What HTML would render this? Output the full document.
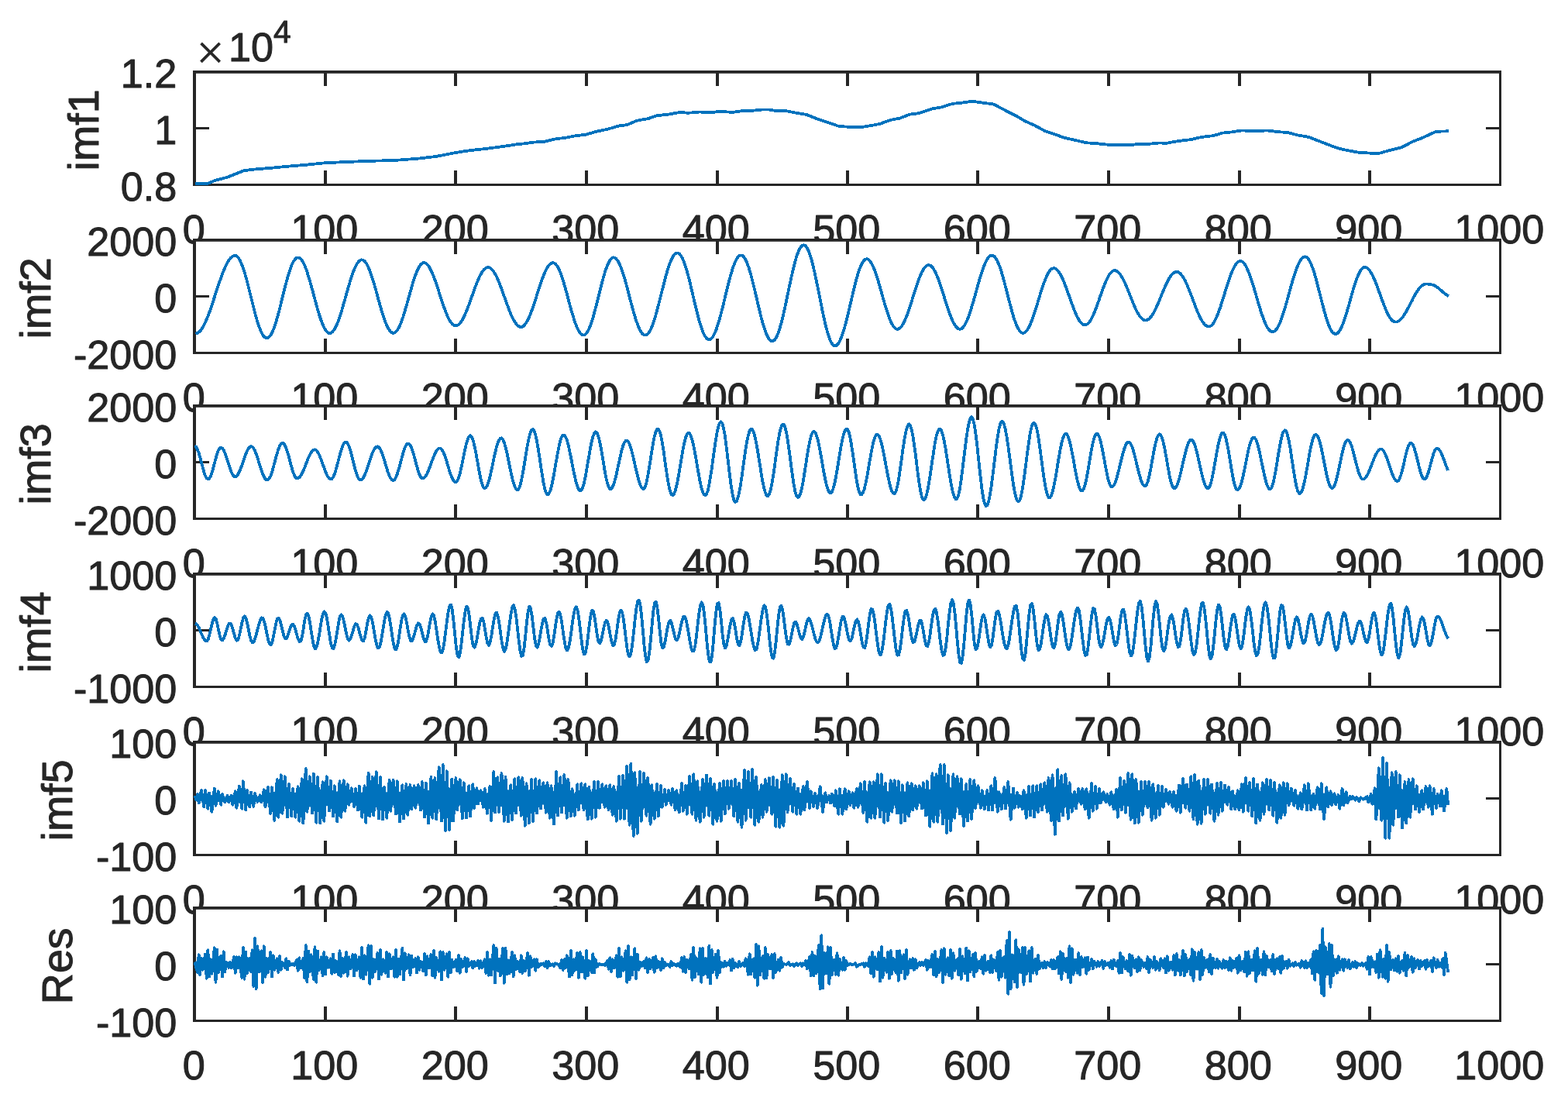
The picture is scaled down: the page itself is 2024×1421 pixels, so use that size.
<!DOCTYPE html>
<html lang="en"><head><meta charset="utf-8"><title>IMF decomposition</title>
<style>html,body{margin:0;padding:0;background:#fff}body{width:2024px;height:1421px;overflow:hidden}svg{display:block}text{font-family:"Liberation Sans", sans-serif;fill:#262626;stroke:#262626;stroke-width:1px;stroke-linejoin:round}.t{font-size:52.2px}.l{font-size:55.7px}.c{fill:none;stroke:#0072BD;stroke-width:3.8;stroke-linejoin:round;stroke-linecap:butt;shape-rendering:crispEdges}.a{fill:#262626}</style>
</head><body>
<svg width="2024" height="1421" viewBox="0 0 2024 1421">
<rect width="2024" height="1421" fill="#fff"/>
<g id="ax1">
<rect x="249" y="91" width="1689" height="149" fill="#fff"/>
<rect class="a" x="249" y="91" width="1689" height="3.8"/>
<rect class="a" x="249" y="237" width="1689" height="3"/>
<rect class="a" x="249" y="91" width="4" height="149"/>
<rect class="a" x="1935" y="91" width="3" height="149"/>
<rect class="a" x="418" y="91" width="4" height="20"/>
<rect class="a" x="418" y="220" width="4" height="20"/>
<rect class="a" x="586" y="91" width="4" height="20"/>
<rect class="a" x="586" y="220" width="4" height="20"/>
<rect class="a" x="755" y="91" width="4" height="20"/>
<rect class="a" x="755" y="220" width="4" height="20"/>
<rect class="a" x="924" y="91" width="4" height="20"/>
<rect class="a" x="924" y="220" width="4" height="20"/>
<rect class="a" x="1092" y="91" width="4" height="20"/>
<rect class="a" x="1092" y="220" width="4" height="20"/>
<rect class="a" x="1260" y="91" width="4" height="20"/>
<rect class="a" x="1260" y="220" width="4" height="20"/>
<rect class="a" x="1429" y="91" width="4" height="20"/>
<rect class="a" x="1429" y="220" width="4" height="20"/>
<rect class="a" x="1598" y="91" width="4" height="20"/>
<rect class="a" x="1598" y="220" width="4" height="20"/>
<rect class="a" x="1766" y="91" width="4" height="20"/>
<rect class="a" x="1766" y="220" width="4" height="20"/>
<rect class="a" x="249" y="164" width="21" height="3"/>
<rect class="a" x="1918" y="164" width="20" height="3"/>
<clipPath id="cp1"><rect x="249" y="91" width="1689" height="149"/></clipPath>
<path class="c" clip-path="url(#cp1)" d="M252.4,237.3 268.4,236.9 276.9,233.1 293.9,228.6 315.1,220.1 330,218.4 351.2,216.7 372.5,214.6 393.7,212.9 419.2,210.3 436.2,209.5 457.5,208.6 478.7,207.8 510.6,206.9 542.4,204.4 563.7,201.8 584.9,197.6 606.2,194.2 627.4,191.9 648.7,189.1 669.9,185.9 677.7,185.3 686.2,183.8 703.2,182.7 718.1,179.1 728.7,178.1 743.6,175.1 756.4,173.8 767,170.4 784,166.8 798.8,162.5 809.5,161.1 822.2,155.7 837.1,153 847.7,149.2 862.6,147.7 877.5,144.9 888.1,145.8 902.9,144.5 917.8,145.3 928.4,143.8 945.4,144.9 960.3,142.8 970.9,142.8 983.7,141.5 992.2,141.5 1000.7,142.8 1013.4,142.8 1026.2,145.5 1041,147.9 1053.8,153 1068.7,157.9 1081.4,162.5 1085,163 1097.7,164 1112.6,164 1127.5,161.5 1136,159.8 1148.7,155.1 1161.5,152.6 1174.2,147.7 1187,146 1204,140.2 1214.6,138.5 1229.5,133.9 1242.2,132.6 1255,130.7 1267.7,132.6 1282.6,134.5 1297.5,142.4 1312.3,149.8 1322.9,156.2 1335.7,161.9 1348.4,168.9 1361.2,173.2 1373.9,177.8 1386.7,180.6 1401.6,184.2 1416.4,185.3 1429.2,186.6 1446.2,186.6 1456.8,187.4 1471.7,185.7 1484.4,185.7 1497.2,184.4 1505,184.9 1522,181.9 1536.9,180.2 1551.7,176.8 1566.6,175.1 1577.2,171.7 1590,170.4 1602.7,168.5 1619.7,168.9 1636.7,168.5 1649.5,170.2 1662.2,171 1675,174.4 1689.8,177 1702.6,182.1 1715.3,187 1728.1,191.7 1740.8,194.4 1753.6,196.7 1768.4,197.6 1781.2,197.6 1793.9,194 1808.8,190.4 1823.7,182.7 1836.4,177.8 1853.4,169.8 1870,169.3"/>
<text class="t" x="250.3" y="314" text-anchor="middle">0</text>
<text class="t" x="418.8" y="314" text-anchor="middle">100</text>
<text class="t" x="587.3" y="314" text-anchor="middle">200</text>
<text class="t" x="755.8" y="314" text-anchor="middle">300</text>
<text class="t" x="924.3" y="314" text-anchor="middle">400</text>
<text class="t" x="1092.8" y="314" text-anchor="middle">500</text>
<text class="t" x="1261.3" y="314" text-anchor="middle">600</text>
<text class="t" x="1429.8" y="314" text-anchor="middle">700</text>
<text class="t" x="1598.3" y="314" text-anchor="middle">800</text>
<text class="t" x="1766.8" y="314" text-anchor="middle">900</text>
<text class="t" x="1935.3" y="314" text-anchor="middle">1000</text>
<text class="t" x="228.4" y="112.9" text-anchor="end">1.2</text>
<text class="t" x="228.4" y="185.8" text-anchor="end">1</text>
<text class="t" x="228.4" y="258.8" text-anchor="end">0.8</text>
<text class="l" transform="translate(127.2,167.8) rotate(-90)" text-anchor="middle">imf1</text>
<text x="253.6" y="88.8" style="font-family:'Liberation Serif',serif;font-size:64px;stroke-width:.5px">×</text>
<text class="t" x="295" y="79.3">10</text>
<text x="353" y="54.8" style="font-size:40.5px">4</text>
</g>
<g id="ax2">
<rect x="249" y="308" width="1689" height="149" fill="#fff"/>
<rect class="a" x="249" y="308" width="1689" height="3.8"/>
<rect class="a" x="249" y="454" width="1689" height="3"/>
<rect class="a" x="249" y="308" width="4" height="149"/>
<rect class="a" x="1935" y="308" width="3" height="149"/>
<rect class="a" x="418" y="308" width="4" height="20"/>
<rect class="a" x="418" y="437" width="4" height="20"/>
<rect class="a" x="586" y="308" width="4" height="20"/>
<rect class="a" x="586" y="437" width="4" height="20"/>
<rect class="a" x="755" y="308" width="4" height="20"/>
<rect class="a" x="755" y="437" width="4" height="20"/>
<rect class="a" x="924" y="308" width="4" height="20"/>
<rect class="a" x="924" y="437" width="4" height="20"/>
<rect class="a" x="1092" y="308" width="4" height="20"/>
<rect class="a" x="1092" y="437" width="4" height="20"/>
<rect class="a" x="1260" y="308" width="4" height="20"/>
<rect class="a" x="1260" y="437" width="4" height="20"/>
<rect class="a" x="1429" y="308" width="4" height="20"/>
<rect class="a" x="1429" y="437" width="4" height="20"/>
<rect class="a" x="1598" y="308" width="4" height="20"/>
<rect class="a" x="1598" y="437" width="4" height="20"/>
<rect class="a" x="1766" y="308" width="4" height="20"/>
<rect class="a" x="1766" y="437" width="4" height="20"/>
<rect class="a" x="249" y="381" width="21" height="3"/>
<rect class="a" x="1918" y="381" width="20" height="3"/>
<clipPath id="cp2"><rect x="249" y="308" width="1689" height="149"/></clipPath>
<path class="c" clip-path="url(#cp2)" d="M252.4,430.5 254.1,430.2 255.8,429.4 257.5,428.1 259.2,426.2 260.9,423.9 262.5,421 264.2,417.8 265.9,414.1 267.6,410.1 269.3,405.7 271,401.1 272.7,396.3 274.3,391.2 276,386.1 277.7,380.9 279.4,375.7 281.1,370.5 282.8,365.5 284.5,360.6 286.1,355.9 287.8,351.5 289.5,347.4 291.2,343.6 292.9,340.2 294.6,337.3 296.2,334.8 297.9,332.8 299.6,331.4 301.3,330.4 303,330 304.7,330.2 306.4,331.3 308,333.3 309.7,336.1 311.4,339.6 313.1,343.9 314.8,348.9 316.5,354.4 318.2,360.4 319.8,366.8 321.5,373.5 323.2,380.3 324.9,387.1 326.6,393.9 328.3,400.6 329.9,406.9 331.6,412.8 333.3,418.3 335,423.1 336.7,427.3 338.4,430.8 340.1,433.5 341.7,435.3 343.4,436.3 345.1,436.3 346.8,435.5 348.5,433.8 350.2,431.3 351.9,427.9 353.5,423.8 355.2,418.9 356.9,413.5 358.6,407.6 360.3,401.3 362,394.7 363.6,387.9 365.3,381 367,374.2 368.7,367.6 370.4,361.3 372.1,355.3 373.8,349.9 375.4,345.1 377.1,340.9 378.8,337.5 380.5,335 382.2,333.2 383.9,332.4 385.6,332.5 387.2,333.3 388.9,335 390.6,337.4 392.3,340.6 394,344.4 395.7,348.9 397.3,353.9 399,359.3 400.7,365.1 402.4,371.2 404.1,377.5 405.8,383.8 407.5,390 409.1,396.1 410.8,402 412.5,407.5 414.2,412.6 415.9,417.2 417.6,421.1 419.3,424.4 420.9,427 422.6,428.8 424.3,429.8 426,430 427.7,429.5 429.4,428.1 431,426 432.7,423.3 434.4,419.8 436.1,415.8 437.8,411.2 439.5,406.1 441.2,400.7 442.8,394.9 444.5,389 446.2,383 447.9,376.9 449.6,371 451.3,365.2 453,359.8 454.6,354.7 456.3,350 458,345.9 459.7,342.4 461.4,339.6 463.1,337.4 464.7,336 466.4,335.3 468.1,335.5 469.8,336.4 471.5,338.1 473.2,340.5 474.9,343.7 476.5,347.5 478.2,351.9 479.9,356.8 481.6,362.1 483.3,367.8 485,373.7 486.7,379.8 488.3,385.9 490,392 491.7,397.9 493.4,403.6 495.1,408.9 496.8,413.7 498.4,418.1 500.1,421.8 501.8,424.9 503.5,427.3 505.2,428.9 506.9,429.7 508.6,429.8 510.2,429 511.9,427.4 513.6,425 515.3,421.9 517,418.2 518.7,413.8 520.4,408.9 522,403.5 523.7,397.8 525.4,391.9 527.1,385.8 528.8,379.7 530.5,373.7 532.1,367.9 533.8,362.3 535.5,357.2 537.2,352.6 538.9,348.6 540.6,345.2 542.3,342.5 543.9,340.6 545.6,339.4 547.3,339.1 549,339.5 550.7,340.6 552.4,342.4 554.1,344.7 555.7,347.7 557.4,351.2 559.1,355.1 560.8,359.5 562.5,364.2 564.2,369.2 565.8,374.3 567.5,379.6 569.2,384.8 570.9,390 572.6,394.9 574.3,399.7 576,404.1 577.6,408.1 579.3,411.6 581,414.6 582.7,417 584.4,418.8 586.1,420 587.8,420.5 589.4,420.3 591.1,419.5 592.8,418.2 594.5,416.2 596.2,413.8 597.9,410.8 599.5,407.4 601.2,403.6 602.9,399.5 604.6,395.1 606.3,390.5 608,385.8 609.7,381 611.3,376.3 613,371.6 614.7,367.2 616.4,363 618.1,359.1 619.8,355.6 621.5,352.5 623.1,349.9 624.8,347.8 626.5,346.3 628.2,345.4 629.9,345.1 631.6,345.3 633.2,346.2 634.9,347.6 636.6,349.6 638.3,352.2 640,355.2 641.7,358.6 643.4,362.4 645,366.6 646.7,371 648.4,375.6 650.1,380.4 651.8,385.2 653.5,389.9 655.2,394.6 656.8,399.1 658.5,403.3 660.2,407.3 661.9,410.9 663.6,414 665.3,416.7 666.9,418.8 668.6,420.5 670.3,421.5 672,422 673.7,421.8 675.4,421 677.1,419.5 678.7,417.3 680.4,414.6 682.1,411.3 683.8,407.5 685.5,403.3 687.2,398.7 688.9,393.8 690.5,388.7 692.2,383.5 693.9,378.2 695.6,372.9 697.3,367.8 699,362.9 700.6,358.2 702.3,354 704,350.1 705.7,346.8 707.4,344 709.1,341.8 710.8,340.3 712.4,339.4 714.1,339.1 715.8,339.7 717.5,341.1 719.2,343.3 720.9,346.2 722.6,349.9 724.2,354.3 725.9,359.2 727.6,364.6 729.3,370.4 731,376.4 732.7,382.7 734.3,389 736,395.2 737.7,401.3 739.4,407 741.1,412.4 742.8,417.4 744.5,421.7 746.1,425.4 747.8,428.4 749.5,430.6 751.2,432 752.9,432.6 754.6,432.3 756.3,431 757.9,428.9 759.6,425.9 761.3,422.1 763,417.6 764.7,412.4 766.4,406.7 768,400.5 769.7,394 771.4,387.3 773.1,380.5 774.8,373.7 776.5,367.1 778.2,360.7 779.8,354.8 781.5,349.4 783.2,344.6 784.9,340.5 786.6,337.1 788.3,334.6 790,333 791.6,332.3 793.3,332.6 795,333.6 796.7,335.5 798.4,338.2 800.1,341.6 801.7,345.7 803.4,350.4 805.1,355.6 806.8,361.4 808.5,367.4 810.2,373.7 811.9,380.2 813.5,386.7 815.2,393.1 816.9,399.4 818.6,405.3 820.3,410.9 822,416 823.7,420.6 825.3,424.5 827,427.6 828.7,430.1 830.4,431.7 832.1,432.5 833.8,432.5 835.4,431.6 837.1,429.8 838.8,427.2 840.5,423.9 842.2,419.8 843.9,415.1 845.6,409.7 847.2,403.9 848.9,397.7 850.6,391.2 852.3,384.5 854,377.7 855.7,371 857.4,364.4 859,358 860.7,352 862.4,346.4 864.1,341.4 865.8,337 867.5,333.3 869.1,330.3 870.8,328.2 872.5,326.8 874.2,326.4 875.9,326.8 877.6,328.2 879.3,330.4 880.9,333.5 882.6,337.5 884.3,342.2 886,347.5 887.7,353.4 889.4,359.8 891.1,366.6 892.7,373.7 894.4,380.9 896.1,388.1 897.8,395.2 899.5,402.1 901.2,408.7 902.8,414.8 904.5,420.4 906.2,425.4 907.9,429.6 909.6,433.1 911.3,435.7 913,437.5 914.6,438.3 916.3,438.2 918,437.1 919.7,435.3 921.4,432.5 923.1,429 924.8,424.7 926.4,419.7 928.1,414.2 929.8,408.2 931.5,401.7 933.2,395 934.9,388 936.5,381.1 938.2,374.1 939.9,367.3 941.6,360.8 943.3,354.7 945,349 946.7,343.9 948.3,339.5 950,335.8 951.7,332.9 953.4,330.8 955.1,329.7 956.8,329.4 958.5,330 960.1,331.6 961.8,334.1 963.5,337.4 965.2,341.6 966.9,346.6 968.6,352.1 970.2,358.3 971.9,364.9 973.6,371.8 975.3,379 977,386.3 978.7,393.5 980.4,400.6 982,407.5 983.7,413.9 985.4,419.9 987.1,425.2 988.8,429.9 990.5,433.7 992.2,436.8 993.8,438.9 995.5,440.2 997.2,440.4 998.9,439.7 1000.6,437.9 1002.3,435.1 1003.9,431.3 1005.6,426.6 1007.3,421.1 1009,414.9 1010.7,408.1 1012.4,400.7 1014.1,393 1015.7,385 1017.4,376.9 1019.1,368.9 1020.8,360.9 1022.5,353.3 1024.2,346.1 1025.9,339.5 1027.5,333.5 1029.2,328.3 1030.9,323.9 1032.6,320.5 1034.3,318 1036,316.6 1037.6,316.2 1039.3,316.9 1041,318.7 1042.7,321.6 1044.4,325.5 1046.1,330.4 1047.8,336.1 1049.4,342.6 1051.1,349.8 1052.8,357.5 1054.5,365.7 1056.2,374.1 1057.9,382.6 1059.6,391.1 1061.2,399.4 1062.9,407.4 1064.6,415 1066.3,422 1068,428.3 1069.7,433.8 1071.3,438.4 1073,442 1074.7,444.5 1076.4,446 1078.1,446.4 1079.8,445.8 1081.5,444.2 1083.1,441.7 1084.8,438.4 1086.5,434.2 1088.2,429.3 1089.9,423.8 1091.6,417.7 1093.3,411.1 1094.9,404.2 1096.6,397 1098.3,389.8 1100,382.5 1101.7,375.4 1103.4,368.5 1105,362 1106.7,356 1108.4,350.5 1110.1,345.7 1111.8,341.7 1113.5,338.5 1115.2,336.2 1116.8,334.7 1118.5,334.2 1120.2,334.6 1121.9,335.8 1123.6,337.7 1125.3,340.4 1127,343.8 1128.6,347.8 1130.3,352.4 1132,357.5 1133.7,362.9 1135.4,368.7 1137.1,374.6 1138.7,380.6 1140.4,386.6 1142.1,392.5 1143.8,398.1 1145.5,403.4 1147.2,408.3 1148.9,412.7 1150.5,416.5 1152.2,419.6 1153.9,422 1155.6,423.7 1157.3,424.6 1159,424.7 1160.7,424 1162.3,422.7 1164,420.7 1165.7,418.1 1167.4,414.8 1169.1,411 1170.8,406.8 1172.4,402.1 1174.1,397.1 1175.8,391.9 1177.5,386.6 1179.2,381.1 1180.9,375.8 1182.6,370.5 1184.2,365.5 1185.9,360.8 1187.6,356.5 1189.3,352.6 1191,349.3 1192.7,346.5 1194.4,344.4 1196,343 1197.7,342.2 1199.4,342.2 1201.1,342.8 1202.8,344.2 1204.5,346.2 1206.1,348.9 1207.8,352.2 1209.5,356 1211.2,360.3 1212.9,364.9 1214.6,369.9 1216.3,375.1 1217.9,380.5 1219.6,385.9 1221.3,391.3 1223,396.5 1224.7,401.5 1226.4,406.2 1228.1,410.6 1229.7,414.4 1231.4,417.7 1233.1,420.4 1234.8,422.5 1236.5,423.9 1238.2,424.6 1239.8,424.6 1241.5,423.9 1243.2,422.4 1244.9,420.1 1246.6,417.1 1248.3,413.5 1250,409.3 1251.6,404.6 1253.3,399.4 1255,393.9 1256.7,388 1258.4,382 1260.1,376 1261.8,369.9 1263.4,364 1265.1,358.3 1266.8,352.9 1268.5,347.8 1270.2,343.3 1271.9,339.3 1273.5,335.9 1275.2,333.2 1276.9,331.3 1278.6,330 1280.3,329.6 1282,329.9 1283.7,331.1 1285.3,333.2 1287,336.1 1288.7,339.8 1290.4,344.1 1292.1,349.1 1293.8,354.6 1295.5,360.6 1297.1,366.9 1298.8,373.4 1300.5,380 1302.2,386.6 1303.9,393.1 1305.6,399.4 1307.2,405.3 1308.9,410.8 1310.6,415.7 1312.3,420 1314,423.6 1315.7,426.4 1317.4,428.4 1319,429.5 1320.7,429.8 1322.4,429.3 1324.1,428.1 1325.8,426.1 1327.5,423.5 1329.2,420.2 1330.8,416.4 1332.5,412 1334.2,407.3 1335.9,402.2 1337.6,396.8 1339.3,391.3 1340.9,385.7 1342.6,380.2 1344.3,374.8 1346,369.6 1347.7,364.8 1349.4,360.4 1351.1,356.4 1352.7,353.1 1354.4,350.3 1356.1,348.2 1357.8,346.8 1359.5,346.2 1361.2,346.2 1362.9,346.9 1364.5,348.3 1366.2,350.2 1367.9,352.6 1369.6,355.6 1371.3,359.1 1373,362.9 1374.6,367.1 1376.3,371.6 1378,376.3 1379.7,381 1381.4,385.9 1383.1,390.6 1384.8,395.2 1386.4,399.6 1388.1,403.7 1389.8,407.5 1391.5,410.8 1393.2,413.7 1394.9,416 1396.6,417.7 1398.2,418.9 1399.9,419.4 1401.6,419.3 1403.3,418.5 1405,417.1 1406.7,415 1408.3,412.3 1410,409.2 1411.7,405.5 1413.4,401.4 1415.1,397 1416.8,392.4 1418.5,387.6 1420.1,382.7 1421.8,377.9 1423.5,373.2 1425.2,368.7 1426.9,364.5 1428.6,360.7 1430.3,357.3 1431.9,354.4 1433.6,352.2 1435.3,350.5 1437,349.5 1438.7,349.1 1440.4,349.4 1442,350.2 1443.7,351.6 1445.4,353.5 1447.1,355.8 1448.8,358.7 1450.5,361.9 1452.2,365.4 1453.8,369.3 1455.5,373.3 1457.2,377.5 1458.9,381.8 1460.6,386 1462.3,390.2 1464,394.2 1465.6,398 1467.3,401.5 1469,404.6 1470.7,407.3 1472.4,409.6 1474.1,411.4 1475.7,412.6 1477.4,413.3 1479.1,413.5 1480.8,413 1482.5,412.1 1484.2,410.6 1485.9,408.6 1487.5,406.2 1489.2,403.4 1490.9,400.2 1492.6,396.6 1494.3,392.9 1496,388.9 1497.7,384.8 1499.3,380.7 1501,376.6 1502.7,372.6 1504.4,368.7 1506.1,365.1 1507.8,361.8 1509.4,358.8 1511.1,356.3 1512.8,354.2 1514.5,352.6 1516.2,351.5 1517.9,350.9 1519.6,350.9 1521.2,351.4 1522.9,352.5 1524.6,354.2 1526.3,356.4 1528,359 1529.7,362.1 1531.4,365.6 1533,369.5 1534.7,373.6 1536.4,377.9 1538.1,382.3 1539.8,386.9 1541.5,391.4 1543.1,395.8 1544.8,400 1546.5,404.1 1548.2,407.8 1549.9,411.2 1551.6,414.2 1553.3,416.7 1554.9,418.7 1556.6,420.2 1558.3,421.2 1560,421.5 1561.7,421.3 1563.4,420.3 1565.1,418.7 1566.7,416.4 1568.4,413.4 1570.1,409.9 1571.8,405.9 1573.5,401.4 1575.2,396.6 1576.8,391.4 1578.5,386.1 1580.2,380.6 1581.9,375.1 1583.6,369.7 1585.3,364.5 1587,359.5 1588.6,354.8 1590.3,350.6 1592,346.8 1593.7,343.6 1595.4,340.9 1597.1,338.9 1598.8,337.6 1600.4,337 1602.1,337.1 1603.8,338 1605.5,339.6 1607.2,341.8 1608.9,344.7 1610.5,348.3 1612.2,352.4 1613.9,356.9 1615.6,361.9 1617.3,367.3 1619,372.8 1620.7,378.6 1622.3,384.4 1624,390.1 1625.7,395.8 1627.4,401.2 1629.1,406.4 1630.8,411.1 1632.5,415.4 1634.1,419.2 1635.8,422.4 1637.5,424.9 1639.2,426.8 1640.9,427.9 1642.6,428.3 1644.2,428 1645.9,426.9 1647.6,425 1649.3,422.5 1651,419.2 1652.7,415.3 1654.4,410.8 1656,405.9 1657.7,400.5 1659.4,394.8 1661.1,388.9 1662.8,382.8 1664.5,376.6 1666.2,370.5 1667.8,364.6 1669.5,358.9 1671.2,353.5 1672.9,348.6 1674.6,344.2 1676.3,340.3 1677.9,337 1679.6,334.5 1681.3,332.7 1683,331.6 1684.7,331.3 1686.4,331.8 1688.1,333.2 1689.7,335.5 1691.4,338.7 1693.1,342.6 1694.8,347.2 1696.5,352.4 1698.2,358.1 1699.9,364.3 1701.5,370.7 1703.2,377.4 1704.9,384.1 1706.6,390.8 1708.3,397.3 1710,403.5 1711.6,409.3 1713.3,414.6 1715,419.2 1716.7,423.2 1718.4,426.5 1720.1,428.9 1721.8,430.4 1723.4,431.1 1725.1,430.9 1726.8,429.8 1728.5,427.9 1730.2,425.2 1731.9,421.8 1733.6,417.8 1735.2,413.1 1736.9,408 1738.6,402.5 1740.3,396.7 1742,390.7 1743.7,384.7 1745.3,378.7 1747,372.9 1748.7,367.4 1750.4,362.3 1752.1,357.7 1753.8,353.7 1755.5,350.4 1757.1,347.8 1758.8,346 1760.5,345 1762.2,344.9 1763.9,345.4 1765.6,346.5 1767.3,348.3 1768.9,350.6 1770.6,353.4 1772.3,356.7 1774,360.4 1775.7,364.5 1777.4,368.8 1779,373.4 1780.7,378.1 1782.4,382.8 1784.1,387.4 1785.8,392 1787.5,396.3 1789.2,400.3 1790.8,404 1792.5,407.3 1794.2,410.1 1795.9,412.3 1797.6,414 1799.3,415.1 1801,415.6 1802.6,415.5 1804.3,414.9 1806,413.9 1807.7,412.5 1809.4,410.7 1811.1,408.6 1812.7,406.1 1814.4,403.4 1816.1,400.4 1817.8,397.3 1819.5,394.1 1821.2,390.8 1822.9,387.5 1824.5,384.2 1826.2,381.1 1827.9,378.2 1829.6,375.5 1831.3,373.1 1833,371 1834.7,369.3 1836.3,368 1838,367.1 1839.7,366.6 1841.4,366.5 1843.1,366.6 1844.8,366.8 1846.4,367.1 1848.1,367.4 1849.8,367.8 1851.5,368.5 1853.2,369.5 1854.9,370.6 1856.6,371.9 1858.2,373.1 1859.9,374.5 1861.6,376 1863.3,377.6 1865,379 1866.7,380.2 1868.4,381.3 1870,382.2"/>
<text class="t" x="250.3" y="531" text-anchor="middle">0</text>
<text class="t" x="418.8" y="531" text-anchor="middle">100</text>
<text class="t" x="587.3" y="531" text-anchor="middle">200</text>
<text class="t" x="755.8" y="531" text-anchor="middle">300</text>
<text class="t" x="924.3" y="531" text-anchor="middle">400</text>
<text class="t" x="1092.8" y="531" text-anchor="middle">500</text>
<text class="t" x="1261.3" y="531" text-anchor="middle">600</text>
<text class="t" x="1429.8" y="531" text-anchor="middle">700</text>
<text class="t" x="1598.3" y="531" text-anchor="middle">800</text>
<text class="t" x="1766.8" y="531" text-anchor="middle">900</text>
<text class="t" x="1935.3" y="531" text-anchor="middle">1000</text>
<text class="t" x="228.4" y="329.9" text-anchor="end">2000</text>
<text class="t" x="228.4" y="402.8" text-anchor="end">0</text>
<text class="t" x="228.4" y="475.8" text-anchor="end">-2000</text>
<text class="l" transform="translate(65.2,384.8) rotate(-90)" text-anchor="middle">imf2</text>
</g>
<g id="ax3">
<rect x="249" y="522" width="1689" height="149" fill="#fff"/>
<rect class="a" x="249" y="522" width="1689" height="3.8"/>
<rect class="a" x="249" y="668" width="1689" height="3"/>
<rect class="a" x="249" y="522" width="4" height="149"/>
<rect class="a" x="1935" y="522" width="3" height="149"/>
<rect class="a" x="418" y="522" width="4" height="20"/>
<rect class="a" x="418" y="651" width="4" height="20"/>
<rect class="a" x="586" y="522" width="4" height="20"/>
<rect class="a" x="586" y="651" width="4" height="20"/>
<rect class="a" x="755" y="522" width="4" height="20"/>
<rect class="a" x="755" y="651" width="4" height="20"/>
<rect class="a" x="924" y="522" width="4" height="20"/>
<rect class="a" x="924" y="651" width="4" height="20"/>
<rect class="a" x="1092" y="522" width="4" height="20"/>
<rect class="a" x="1092" y="651" width="4" height="20"/>
<rect class="a" x="1260" y="522" width="4" height="20"/>
<rect class="a" x="1260" y="651" width="4" height="20"/>
<rect class="a" x="1429" y="522" width="4" height="20"/>
<rect class="a" x="1429" y="651" width="4" height="20"/>
<rect class="a" x="1598" y="522" width="4" height="20"/>
<rect class="a" x="1598" y="651" width="4" height="20"/>
<rect class="a" x="1766" y="522" width="4" height="20"/>
<rect class="a" x="1766" y="651" width="4" height="20"/>
<rect class="a" x="249" y="595" width="21" height="3"/>
<rect class="a" x="1918" y="595" width="20" height="3"/>
<clipPath id="cp3"><rect x="249" y="522" width="1689" height="149"/></clipPath>
<path class="c" clip-path="url(#cp3)" d="M251.4,575.7 253.1,576.7 254.8,579.7 256.5,584.2 258.2,590 259.9,596.4 261.6,602.9 263.2,608.9 264.9,613.7 266.6,617 268.3,618.4 270,617.8 271.7,615.1 273.4,610.7 275,605 276.7,598.6 278.4,592.1 280.1,586.2 281.8,581.5 283.5,578.5 285.1,577.5 286.8,578.3 288.5,580.6 290.2,584.2 291.9,588.8 293.6,594.1 295.3,599.5 296.9,604.7 298.6,609.2 300.3,612.6 302,614.7 303.7,615.3 305.4,614.5 307.1,612.5 308.7,609.4 310.4,605.4 312.1,600.9 313.8,596 315.5,591 317.2,586.4 318.8,582.4 320.5,579.3 322.2,577.2 323.9,576.3 325.6,576.8 327.3,578.6 329,581.6 330.6,585.7 332.3,590.6 334,596 335.7,601.5 337.4,606.7 339.1,611.4 340.8,615.3 342.4,618 344.1,619.4 345.8,619.4 347.5,617.7 349.2,614.5 350.9,609.8 352.5,604.2 354.2,597.9 355.9,591.5 357.6,585.4 359.3,580 361,575.7 362.7,572.9 364.3,571.8 366,572.3 367.7,574.6 369.4,578.4 371.1,583.5 372.8,589.4 374.5,595.7 376.1,602 377.8,607.7 379.5,612.3 381.2,615.7 382.9,617.4 384.6,617.4 386.2,616.4 387.9,614.4 389.6,611.6 391.3,608 393,604 394.7,599.7 396.4,595.3 398,591.1 399.7,587.4 401.4,584.3 403.1,582 404.8,580.7 406.5,580.3 408.2,581.1 409.8,583.1 411.5,586 413.2,589.8 414.9,594.3 416.6,599 418.3,603.7 419.9,608.2 421.6,612.1 423.3,615.3 425,617.4 426.7,618.4 428.4,618 430.1,615.9 431.7,612.1 433.4,607 435.1,600.9 436.8,594.3 438.5,587.7 440.2,581.6 441.9,576.5 443.5,572.8 445.2,570.7 446.9,570.4 448.6,572.1 450.3,575.5 452,580.4 453.6,586.5 455.3,593.2 457,600 458.7,606.5 460.4,612.1 462.1,616.3 463.8,618.9 465.4,619.6 467.1,618.8 468.8,616.8 470.5,613.7 472.2,609.7 473.9,605 475.6,599.9 477.2,594.7 478.9,589.7 480.6,585.1 482.3,581.3 484,578.5 485.7,576.8 487.3,576.3 489,577.2 490.7,579.6 492.4,583.1 494.1,587.7 495.8,593 497.5,598.6 499.1,604.2 500.8,609.4 502.5,613.9 504.2,617.3 505.9,619.3 507.6,620 509.3,619.1 510.9,616.4 512.6,612.3 514.3,607 516,600.9 517.7,594.5 519.4,588.1 521,582.4 522.7,577.7 524.4,574.3 526.1,572.5 527.8,572.5 529.5,574.3 531.2,577.8 532.8,582.6 534.5,588.4 536.2,594.8 537.9,601.2 539.6,607 541.3,611.9 543,615.4 544.6,617.2 546.3,617.3 548,616.2 549.7,614.1 551.4,611.1 553.1,607.3 554.7,603 556.4,598.4 558.1,593.8 559.8,589.4 561.5,585.5 563.2,582.3 564.9,580 566.5,578.7 568.2,578.5 569.9,579.7 571.6,582.2 573.3,586 575,590.6 576.7,595.9 578.3,601.5 580,607.1 581.7,612.2 583.4,616.5 585.1,619.8 586.8,621.8 588.4,622.4 590.1,621.1 591.8,617.5 593.5,611.9 595.2,604.7 596.9,596.6 598.6,588.1 600.2,580 601.9,572.9 603.6,567.3 605.3,563.6 607,562.3 608.7,563.5 610.4,567.3 612,573.4 613.7,581.4 615.4,590.6 617.1,600.2 618.8,609.5 620.5,617.8 622.1,624.3 623.8,628.6 625.5,630.3 627.2,629.5 628.9,626.8 630.6,622.2 632.3,616.1 633.9,608.8 635.6,600.9 637.3,592.7 639,584.9 640.7,577.9 642.4,572.1 644.1,568 645.7,565.7 647.4,565.4 649.1,567.3 650.8,571.1 652.5,576.7 654.2,583.6 655.8,591.6 657.5,600 659.2,608.3 660.9,616 662.6,622.7 664.3,627.8 666,631.2 667.6,632.5 669.3,631.4 671,627.6 672.7,621.4 674.4,613.2 676.1,603.6 677.8,593.2 679.4,582.8 681.1,573.2 682.8,565 684.5,558.9 686.2,555.1 687.9,554.1 689.5,556.1 691.2,561.1 692.9,568.7 694.6,578.4 696.3,589.3 698,600.8 699.7,611.9 701.3,621.9 703,629.9 704.7,635.4 706.4,638 708.1,637.7 709.8,634.7 711.5,629.5 713.1,622.2 714.8,613.5 716.5,603.9 718.2,594 719.9,584.4 721.6,575.9 723.2,569 724.9,564.1 726.6,561.6 728.3,561.5 730,563.7 731.7,567.8 733.4,573.6 735,580.8 736.7,589 738.4,597.7 740.1,606.4 741.8,614.6 743.5,621.7 745.2,627.4 746.8,631.4 748.5,633.3 750.2,633 751.9,630.1 753.6,624.8 755.3,617.3 756.9,608.3 758.6,598.4 760.3,588.3 762,578.6 763.7,570.2 765.4,563.6 767.1,559.2 768.7,557.4 770.4,558.4 772.1,562.2 773.8,568.5 775.5,576.8 777.2,586.5 778.9,596.8 780.5,606.9 782.2,616 783.9,623.4 785.6,628.6 787.3,631.1 789,630.9 790.6,628.7 792.3,624.6 794,618.9 795.7,612 797.4,604.2 799.1,596.3 800.8,588.5 802.4,581.5 804.1,575.6 805.8,571.4 807.5,569 809.2,568.5 810.9,570 812.6,573.1 814.2,577.9 815.9,583.9 817.6,590.9 819.3,598.4 821,605.9 822.7,613.1 824.3,619.5 826,624.8 827.7,628.6 829.4,630.7 831.1,630.9 832.8,628.2 834.5,622.7 836.1,614.8 837.8,605 839.5,594.2 841.2,583.3 842.9,573 844.6,564.3 846.3,557.9 847.9,554.2 849.6,553.5 851.3,556.2 853,561.9 854.7,570.4 856.4,580.9 858,592.5 859.7,604.5 861.4,615.9 863.1,625.7 864.8,633.2 866.5,637.9 868.2,639.4 869.8,637.9 871.5,633.9 873.2,627.6 874.9,619.5 876.6,610.1 878.3,599.9 880,589.7 881.6,580 883.3,571.6 885,564.9 886.7,560.5 888.4,558.5 890.1,559.1 891.7,562.1 893.4,567.3 895.1,574.4 896.8,583 898.5,592.5 900.2,602.5 901.9,612.2 903.5,621.1 905.2,628.7 906.9,634.5 908.6,638.1 910.3,639.4 912,637.8 913.7,633.2 915.3,625.8 917,616.1 918.7,604.8 920.4,592.6 922.1,580.4 923.8,568.9 925.4,559 927.1,551.4 928.8,546.4 930.5,544.5 932.2,546.2 933.9,552 935.6,561.2 937.2,573.3 938.9,587.3 940.6,602 942.3,616.2 944,628.9 945.7,638.9 947.4,645.5 949,648.2 950.7,647.1 952.4,642.9 954.1,635.9 955.8,626.6 957.5,615.6 959.1,603.6 960.8,591.4 962.5,579.8 964.2,569.7 965.9,561.6 967.6,556.1 969.3,553.5 970.9,554 972.6,557.2 974.3,562.9 976,570.6 977.7,580 979.4,590.4 981.1,601.2 982.7,611.8 984.4,621.4 986.1,629.5 987.8,635.6 989.5,639.3 991.2,640.3 992.8,638.4 994.5,633.2 996.2,625.4 997.9,615.3 999.6,603.7 1001.3,591.4 1003,579.3 1004.6,568.2 1006.3,558.9 1008,552.1 1009.7,548.2 1011.4,547.5 1013.1,550.4 1014.8,556.7 1016.4,565.8 1018.1,577.2 1019.8,590 1021.5,603.1 1023.2,615.6 1024.9,626.5 1026.5,635 1028.2,640.3 1029.9,642.2 1031.6,640.9 1033.3,636.7 1035,630.2 1036.7,621.5 1038.3,611.4 1040,600.6 1041.7,589.6 1043.4,579.3 1045.1,570.3 1046.8,563.3 1048.5,558.7 1050.1,556.7 1051.8,557.5 1053.5,560.6 1055.2,565.9 1056.9,573.1 1058.6,581.7 1060.2,591.1 1061.9,600.9 1063.6,610.5 1065.3,619.2 1067,626.5 1068.7,632.1 1070.4,635.4 1072,636.5 1073.7,635 1075.4,631 1077.1,624.8 1078.8,616.6 1080.5,607.1 1082.2,596.9 1083.8,586.5 1085.5,576.6 1087.2,567.9 1088.9,560.9 1090.6,556.1 1092.3,553.6 1093.9,553.9 1095.6,557.6 1097.3,564.3 1099,573.7 1100.7,584.8 1102.4,596.8 1104.1,608.8 1105.7,619.7 1107.4,628.7 1109.1,635 1110.8,638.2 1112.5,638.1 1114.2,635.4 1115.9,630.4 1117.5,623.4 1119.2,614.9 1120.9,605.3 1122.6,595.4 1124.3,585.8 1126,577 1127.6,569.7 1129.3,564.4 1131,561.3 1132.7,560.6 1134.4,562.3 1136.1,566.1 1137.8,571.8 1139.4,579 1141.1,587.4 1142.8,596.5 1144.5,605.7 1146.2,614.6 1147.9,622.5 1149.6,629 1151.2,633.8 1152.9,636.6 1154.6,637.1 1156.3,634.6 1158,628.9 1159.7,620.5 1161.3,609.9 1163,598 1164.7,585.6 1166.4,573.8 1168.1,563.3 1169.8,555.1 1171.5,549.6 1173.1,547.4 1174.8,548.7 1176.5,553.7 1178.2,561.9 1179.9,572.8 1181.6,585.4 1183.3,599 1184.9,612.3 1186.6,624.4 1188.3,634.3 1190,641.4 1191.7,645 1193.4,644.9 1195,641.8 1196.7,635.9 1198.4,627.5 1200.1,617.3 1201.8,605.8 1203.5,594 1205.2,582.5 1206.8,572.1 1208.5,563.6 1210.2,557.4 1211.9,554 1213.6,553.6 1215.3,556 1217,561.1 1218.6,568.4 1220.3,577.6 1222,588.2 1223.7,599.3 1225.4,610.5 1227.1,620.9 1228.7,630 1230.4,637.2 1232.1,642.1 1233.8,644.3 1235.5,643.4 1237.2,638.9 1238.9,631.1 1240.5,620.4 1242.2,607.6 1243.9,593.7 1245.6,579.6 1247.3,566.3 1249,554.8 1250.7,546 1252.3,540.3 1254,538.4 1255.7,540.5 1257.4,546.9 1259.1,557.1 1260.8,570.4 1262.4,585.7 1264.1,601.7 1265.8,617.3 1267.5,631.3 1269.2,642.5 1270.9,650 1272.6,653.4 1274.2,652.5 1275.9,648.1 1277.6,640.3 1279.3,629.8 1281,617.2 1282.7,603.4 1284.4,589.3 1286,575.8 1287.7,563.8 1289.4,554.1 1291.1,547.4 1292.8,544.1 1294.5,544.4 1296.1,547.9 1297.8,554.4 1299.5,563.5 1301.2,574.6 1302.9,587.1 1304.6,600.1 1306.3,612.8 1307.9,624.4 1309.6,634.2 1311.3,641.6 1313,646.2 1314.7,647.5 1316.4,645.4 1318.1,640 1319.7,631.5 1321.4,620.6 1323.1,608.1 1324.8,594.7 1326.5,581.5 1328.2,569.3 1329.8,559 1331.5,551.3 1333.2,546.7 1334.9,545.6 1336.6,547.9 1338.3,553.6 1340,562.1 1341.6,572.9 1343.3,585.2 1345,598.1 1346.7,610.7 1348.4,622.2 1350.1,631.6 1351.8,638.4 1353.4,642 1355.1,642.3 1356.8,639.9 1358.5,635.1 1360.2,628.3 1361.9,619.8 1363.5,610.2 1365.2,600 1366.9,589.8 1368.6,580.4 1370.3,572.2 1372,565.8 1373.7,561.5 1375.3,559.6 1377,560.2 1378.7,563.2 1380.4,568.3 1382.1,575.3 1383.8,583.6 1385.5,592.8 1387.1,602.2 1388.8,611.2 1390.5,619.3 1392.2,626 1393.9,630.7 1395.6,633.2 1397.2,633.4 1398.9,630.8 1400.6,625.7 1402.3,618.5 1404,609.6 1405.7,599.7 1407.4,589.6 1409,580.1 1410.7,571.7 1412.4,565.2 1414.1,561.1 1415.8,559.6 1417.5,560.7 1419.2,564.4 1420.8,570.2 1422.5,577.8 1424.2,586.6 1425.9,596 1427.6,605.2 1429.3,613.6 1430.9,620.5 1432.6,625.5 1434.3,628.1 1436,628.3 1437.7,626.6 1439.4,623.2 1441.1,618.5 1442.7,612.5 1444.4,605.8 1446.1,598.7 1447.8,591.6 1449.5,585 1451.2,579.3 1452.9,574.8 1454.5,571.7 1456.2,570.4 1457.9,570.8 1459.6,572.9 1461.3,576.6 1463,581.7 1464.6,587.9 1466.3,594.8 1468,601.9 1469.7,608.8 1471.4,615.1 1473.1,620.5 1474.8,624.4 1476.4,626.8 1478.1,627.4 1479.8,625.8 1481.5,621.7 1483.2,615.4 1484.9,607.4 1486.6,598.4 1488.2,589 1489.9,580 1491.6,572.1 1493.3,565.9 1495,561.8 1496.7,560.3 1498.3,561.4 1500,565.1 1501.7,571.2 1503.4,579.2 1505.1,588.4 1506.8,598.2 1508.5,607.7 1510.1,616.3 1511.8,623.2 1513.5,628 1515.2,630.2 1516.9,629.9 1518.6,627.8 1520.3,624 1521.9,618.7 1523.6,612.3 1525.3,605.1 1527,597.5 1528.7,590.1 1530.4,583.1 1532,577 1533.7,572.3 1535.4,569 1537.1,567.5 1538.8,567.9 1540.5,570.1 1542.2,574 1543.8,579.5 1545.5,586.1 1547.2,593.5 1548.9,601.2 1550.6,608.8 1552.3,615.7 1554,621.7 1555.6,626.3 1557.3,629.2 1559,630.3 1560.7,629.2 1562.4,625.5 1564.1,619.5 1565.7,611.6 1567.4,602.4 1569.1,592.6 1570.8,583 1572.5,574.2 1574.2,566.9 1575.9,561.6 1577.5,558.8 1579.2,558.7 1580.9,561.4 1582.6,566.7 1584.3,574.3 1586,583.5 1587.7,593.7 1589.3,603.9 1591,613.6 1592.7,621.8 1594.4,628 1596.1,631.6 1597.8,632.4 1599.4,630.9 1601.1,627.3 1602.8,621.9 1604.5,614.9 1606.2,607 1607.9,598.5 1609.6,590 1611.2,582 1612.9,575.1 1614.6,569.7 1616.3,566.1 1618,564.6 1619.7,565.2 1621.4,567.9 1623,572.5 1624.7,578.7 1626.4,586.1 1628.1,594.2 1629.8,602.6 1631.5,610.6 1633.1,617.9 1634.8,623.9 1636.5,628.3 1638.2,630.8 1639.9,631.2 1641.6,628.9 1643.3,624 1644.9,616.7 1646.6,607.7 1648.3,597.5 1650,587.1 1651.7,577.1 1653.4,568.4 1655.1,561.5 1656.7,557 1658.4,555.3 1660.1,556.5 1661.8,560.8 1663.5,567.7 1665.2,576.9 1666.8,587.6 1668.5,598.9 1670.2,610 1671.9,620.1 1673.6,628.3 1675.3,634.1 1677,636.9 1678.6,636.8 1680.3,634.2 1682,629.2 1683.7,622.4 1685.4,614 1687.1,604.6 1688.8,594.9 1690.4,585.4 1692.1,576.8 1693.8,569.6 1695.5,564.3 1697.2,561.3 1698.9,560.6 1700.5,562.3 1702.2,566 1703.9,571.5 1705.6,578.6 1707.3,586.7 1709,595.3 1710.7,603.9 1712.3,612 1714,619.1 1715.7,624.6 1717.4,628.3 1719.1,630 1720.8,629.4 1722.5,626.8 1724.1,622.2 1725.8,616 1727.5,608.6 1729.2,600.6 1730.9,592.4 1732.6,584.7 1734.2,577.9 1735.9,572.6 1737.6,569.2 1739.3,567.7 1741,568.4 1742.7,570.8 1744.4,574.8 1746,580.2 1747.7,586.5 1749.4,593.3 1751.1,600.1 1752.8,606.3 1754.5,611.6 1756.2,615.6 1757.8,618 1759.5,618.6 1761.2,617.9 1762.9,616.2 1764.6,613.7 1766.3,610.4 1767.9,606.5 1769.6,602.3 1771.3,597.9 1773,593.5 1774.7,589.4 1776.4,585.8 1778.1,582.9 1779.7,580.8 1781.4,579.7 1783.1,579.5 1784.8,580.6 1786.5,582.9 1788.2,586.3 1789.9,590.5 1791.5,595.3 1793.2,600.5 1794.9,605.6 1796.6,610.4 1798.3,614.5 1800,617.8 1801.6,620 1803.3,621 1805,620.4 1806.7,617.6 1808.4,612.9 1810.1,606.7 1811.8,599.6 1813.4,592.1 1815.1,585 1816.8,579 1818.5,574.5 1820.2,572 1821.9,571.7 1823.6,573.6 1825.2,577.4 1826.9,582.8 1828.6,589.4 1830.3,596.4 1832,603.4 1833.7,609.5 1835.3,614.4 1837,617.5 1838.7,618.6 1840.4,617.5 1842.1,614.4 1843.8,609.7 1845.5,603.7 1847.1,597.2 1848.8,590.9 1850.5,585.3 1852.2,581.2 1853.9,578.9 1855.6,578.6 1857.3,579.7 1858.9,581.9 1860.6,585.2 1862.3,589.3 1864,593.8 1865.7,598.5 1867.4,603.1 1869,607.2"/>
<text class="t" x="250.3" y="745" text-anchor="middle">0</text>
<text class="t" x="418.8" y="745" text-anchor="middle">100</text>
<text class="t" x="587.3" y="745" text-anchor="middle">200</text>
<text class="t" x="755.8" y="745" text-anchor="middle">300</text>
<text class="t" x="924.3" y="745" text-anchor="middle">400</text>
<text class="t" x="1092.8" y="745" text-anchor="middle">500</text>
<text class="t" x="1261.3" y="745" text-anchor="middle">600</text>
<text class="t" x="1429.8" y="745" text-anchor="middle">700</text>
<text class="t" x="1598.3" y="745" text-anchor="middle">800</text>
<text class="t" x="1766.8" y="745" text-anchor="middle">900</text>
<text class="t" x="1935.3" y="745" text-anchor="middle">1000</text>
<text class="t" x="228.4" y="543.9" text-anchor="end">2000</text>
<text class="t" x="228.4" y="616.8" text-anchor="end">0</text>
<text class="t" x="228.4" y="689.8" text-anchor="end">-2000</text>
<text class="l" transform="translate(65.2,598.8) rotate(-90)" text-anchor="middle">imf3</text>
</g>
<g id="ax4">
<rect x="249" y="739" width="1689" height="149" fill="#fff"/>
<rect class="a" x="249" y="739" width="1689" height="3.8"/>
<rect class="a" x="249" y="885" width="1689" height="3"/>
<rect class="a" x="249" y="739" width="4" height="149"/>
<rect class="a" x="1935" y="739" width="3" height="149"/>
<rect class="a" x="418" y="739" width="4" height="20"/>
<rect class="a" x="418" y="868" width="4" height="20"/>
<rect class="a" x="586" y="739" width="4" height="20"/>
<rect class="a" x="586" y="868" width="4" height="20"/>
<rect class="a" x="755" y="739" width="4" height="20"/>
<rect class="a" x="755" y="868" width="4" height="20"/>
<rect class="a" x="924" y="739" width="4" height="20"/>
<rect class="a" x="924" y="868" width="4" height="20"/>
<rect class="a" x="1092" y="739" width="4" height="20"/>
<rect class="a" x="1092" y="868" width="4" height="20"/>
<rect class="a" x="1260" y="739" width="4" height="20"/>
<rect class="a" x="1260" y="868" width="4" height="20"/>
<rect class="a" x="1429" y="739" width="4" height="20"/>
<rect class="a" x="1429" y="868" width="4" height="20"/>
<rect class="a" x="1598" y="739" width="4" height="20"/>
<rect class="a" x="1598" y="868" width="4" height="20"/>
<rect class="a" x="1766" y="739" width="4" height="20"/>
<rect class="a" x="1766" y="868" width="4" height="20"/>
<rect class="a" x="249" y="812" width="21" height="3"/>
<rect class="a" x="1918" y="812" width="20" height="3"/>
<clipPath id="cp4"><rect x="249" y="739" width="1689" height="149"/></clipPath>
<path class="c" clip-path="url(#cp4)" d="M251.9,804.8 253.6,805.5 255.3,807.5 257,810.7 258.6,814.5 260.3,818.6 262,822.3 263.7,825.3 265.4,827.1 267.1,827.6 268.8,825 270.4,819.2 272.1,811.8 273.8,804.5 275.5,799.2 277.2,797.2 278.9,799.5 280.5,805.5 282.2,813.5 283.9,821 285.6,825.8 287.3,826.4 289,823.8 290.7,819 292.3,813.2 294,808.1 295.7,804.9 297.4,804.6 299.1,807.7 300.8,813.1 302.5,819.4 304.1,824.4 305.8,826.6 307.5,825 309.2,819.1 310.9,810.9 312.6,802.7 314.2,796.9 315.9,795.4 317.6,798.3 319.3,804.9 321,813.5 322.7,821.7 324.4,827.6 326,829.5 327.7,827.9 329.4,823.8 331.1,817.8 332.8,811.1 334.5,804.7 336.2,799.9 337.8,797.4 339.5,798 341.2,802.5 342.9,809.8 344.6,818.3 346.3,826 347.9,831 349.6,832.3 351.3,828.9 353,821.6 354.7,812.4 356.4,803.8 358.1,798.4 359.7,797.5 361.4,800.8 363.1,807.1 364.8,814.5 366.5,820.9 368.2,824.3 369.9,823.8 371.5,820.4 373.2,815.1 374.9,809.8 376.6,806.2 378.3,805.6 380,808.3 381.6,813.5 383.3,819.8 385,825.3 386.7,828.2 388.4,827.2 390.1,820.7 391.8,810.5 393.4,800.1 395.1,793 396.8,791.5 398.5,795.7 400.2,804.5 401.9,815.7 403.6,826.5 405.2,834.5 406.9,837.5 408.6,835.3 410.3,828.9 412,819.4 413.7,808.8 415.3,799.1 417,792.1 418.7,789.3 420.4,791.5 422.1,798.7 423.8,809.3 425.5,820.9 427.1,830.7 428.8,836.5 430.5,837 432.2,832.3 433.9,823.4 435.6,812.6 437.3,802.4 438.9,795.4 440.6,793.2 442.3,795.9 444,802.4 445.7,810.9 447.4,819.1 449,824.9 450.7,826.6 452.4,824.5 454.1,819.7 455.8,813.6 457.5,808.2 459.2,805.3 460.8,805.9 462.5,810.1 464.2,816.5 465.9,822.8 467.6,826.9 469.3,827.1 471,822.3 472.6,813.6 474.3,804.1 476,796.8 477.7,794.3 479.4,797 481.1,804 482.7,813.7 484.4,823.8 486.1,832 487.8,836.3 489.5,835.7 491.2,830.5 492.9,821.6 494.5,811.1 496.2,801 497.9,793.5 499.6,790.1 501.3,791.9 503,798.9 504.7,809.6 506.3,821.3 508,831.5 509.7,837.6 511.4,838.3 513.1,833.3 514.8,823.8 516.4,812.2 518.1,801.4 519.8,794.3 521.5,792.4 523.2,795.9 524.9,803.4 526.6,812.8 528.2,821.4 529.9,826.7 531.6,827.3 533.3,824.2 535,818.4 536.7,812 538.4,806.7 540,804.4 541.7,805.8 543.4,810.8 545.1,817.6 546.8,824.1 548.5,827.9 550.1,827.8 551.8,822.3 553.5,813 555.2,802.9 556.9,795.2 558.6,792.3 560.3,795.2 561.9,803 563.6,814 565.3,825.8 567,835.8 568.7,841.7 570.4,842.3 572.1,837.1 573.7,827 575.4,813.9 577.1,800.4 578.8,789 580.5,781.9 582.2,780.6 583.8,787.5 585.5,801.7 587.2,819.3 588.9,835.6 590.6,846.2 592.3,848.4 594,842.5 595.6,830.5 597.3,815 599,799.7 600.7,788 602.4,782.5 604.1,785 605.8,795.1 607.4,809.7 609.1,824.1 610.8,833.8 612.5,835.7 614.2,831.6 615.9,823.5 617.5,813.5 619.2,804.4 620.9,798.5 622.6,797.5 624.3,802.6 626,812 627.7,822.5 629.3,830.3 631,832.7 632.7,828.9 634.4,820.2 636.1,809.1 637.8,798.7 639.5,791.8 641.1,790.5 642.8,795.4 644.5,805.3 646.2,817.8 647.9,829.8 649.6,838.1 651.2,840.7 652.9,837.1 654.6,828.2 656.3,815.9 658,802.6 659.7,791 661.4,783.4 663,781.4 664.7,786.2 666.4,797.3 668.1,812.2 669.8,827.6 671.5,840.1 673.2,846.8 674.8,846.1 676.5,836.7 678.2,821.1 679.9,803.7 681.6,789.5 683.3,782.7 684.9,784.7 686.6,794.5 688.3,808.7 690,823.1 691.7,833 693.4,835.6 695.1,831.8 696.7,823.6 698.4,813.4 700.1,804.1 701.8,798.4 703.5,798 705.2,803.8 706.9,813.9 708.5,824.7 710.2,832.4 711.9,834.1 713.6,829.6 715.3,820.1 717,808.3 718.6,797.5 720.3,790.7 722,789.9 723.7,795.1 725.4,805.1 727.1,817.3 728.8,828.9 730.4,837 732.1,839.6 733.8,836.4 735.5,828.1 737.2,816.5 738.9,803.9 740.6,792.8 742.2,785.5 743.9,783.4 745.6,787.9 747.3,798.6 749,812.8 750.7,827.3 752.3,838.8 754,844.4 755.7,842.8 757.4,834.2 759.1,820.8 760.8,806.1 762.5,794.1 764.1,787.8 765.8,788.9 767.5,796.7 769.2,808.6 770.9,820.6 772.6,828.8 774.3,830.4 775.9,826.5 777.6,819 779.3,810.3 781,803.5 782.7,800.6 784.4,803 786,810.1 787.7,819.6 789.4,828.2 791.1,833.1 792.8,832.4 794.5,825.6 796.2,814.5 797.8,802.2 799.5,792.2 801.2,787.5 802.9,789.5 804.6,797.8 806.3,810.7 808,825.1 809.6,837.8 811.3,845.8 813,847.3 814.7,841.8 816.4,830.2 818.1,815 819.7,798.9 821.4,785.2 823.1,776.5 824.8,774.5 826.5,781.1 828.2,795.4 829.9,814 831.5,832.8 833.2,847.3 834.9,854.4 836.6,852.2 838.3,841.5 840,824.7 841.7,805.7 843.3,789 845,778.5 846.7,776.6 848.4,784 850.1,798.4 851.8,815.3 853.4,829.4 855.1,836.3 856.8,835 858.5,828.3 860.2,818.5 861.9,808.8 863.6,802.2 865.2,800.8 866.9,804.3 868.6,811 870.3,818.7 872,824.5 873.7,826.3 875.4,823.6 877,817.1 878.7,808.8 880.4,801.1 882.1,796.2 883.8,795.6 885.5,799.7 887.1,807.5 888.8,817.6 890.5,827.8 892.2,836 893.9,840.6 895.6,840.3 897.3,833.5 898.9,821.3 900.6,806.4 902.3,792.1 904,781.7 905.7,777.3 907.4,780.7 909.1,792.3 910.7,809.4 912.4,828.1 914.1,844 915.8,853.6 917.5,854.5 919.2,845.5 920.8,828.6 922.5,808.4 924.2,790.3 925.9,779.2 927.6,778.1 929.3,786.6 931,802 932.6,818.9 934.3,831.8 936,836.4 937.7,833.3 939.4,825.4 941.1,815 942.8,805.2 944.4,799 946.1,798.2 947.8,803.8 949.5,813.9 951.2,824.6 952.9,831.9 954.5,833.1 956.2,827.9 957.9,817.9 959.6,806.1 961.3,796 963,790.6 964.7,791.3 966.3,796.8 968,805.9 969.7,816.8 971.4,827.3 973.1,835.3 974.8,839.2 976.5,837.9 978.1,831.1 979.8,820.1 981.5,807.1 983.2,794.8 984.9,785.6 986.6,781.4 988.2,783.8 989.9,793.5 991.6,808.5 993.3,825.1 995,839.6 996.7,848.5 998.4,849.7 1000,842.2 1001.7,827.7 1003.4,810.2 1005.1,794.1 1006.8,783.8 1008.5,781.8 1010.2,787.5 1011.8,798.8 1013.5,812.4 1015.2,824.4 1016.9,831.5 1018.6,831.7 1020.3,826.8 1021.9,818.5 1023.6,809.9 1025.3,803.9 1027,802.6 1028.7,805.8 1030.4,812 1032.1,818.9 1033.7,824 1035.4,825.2 1037.1,821.7 1038.8,814.8 1040.5,806.7 1042.2,800.5 1043.9,798.3 1045.5,800 1047.2,804.6 1048.9,811 1050.6,818 1052.3,824.2 1054,828.3 1055.6,829.5 1057.3,827.5 1059,822.5 1060.7,815.4 1062.4,807.6 1064.1,800.3 1065.8,795 1067.4,792.5 1069.1,793.9 1070.8,800.6 1072.5,811 1074.2,822.3 1075.9,831.8 1077.6,837 1079.2,836.5 1080.9,830.5 1082.6,820.5 1084.3,809.3 1086,800.2 1087.7,795.6 1089.3,796.6 1091,802.4 1092.7,811.1 1094.4,819.9 1096.1,826 1097.8,827.5 1099.5,824 1101.1,816.8 1102.8,808.5 1104.5,801.9 1106.2,799.4 1107.9,802.2 1109.6,809.8 1111.3,819.9 1112.9,829.5 1114.6,835.5 1116.3,836.1 1118,829.5 1119.7,817.4 1121.4,803.3 1123,791.5 1124.7,785.6 1126.4,786.9 1128.1,794.6 1129.8,806.8 1131.5,821 1133.2,833.9 1134.8,842.7 1136.5,845.4 1138.2,841.4 1139.9,831.3 1141.6,817.2 1143.3,802.2 1145,789.3 1146.6,781.2 1148.3,779.7 1150,785.2 1151.7,796.6 1153.4,811.5 1155.1,826.7 1156.7,839 1158.4,845.7 1160.1,845.4 1161.8,838 1163.5,825.2 1165.2,810.3 1166.9,797.1 1168.5,788.9 1170.2,787.8 1171.9,793 1173.6,802.9 1175.3,814.4 1177,824.1 1178.7,829.2 1180.3,828.3 1182,822.7 1183.7,814.4 1185.4,806.2 1187.1,801.1 1188.8,800.9 1190.4,806.5 1192.1,816 1193.8,826 1195.5,832.9 1197.2,834.3 1198.9,829.2 1200.6,819 1202.2,806.3 1203.9,794.7 1205.6,787.1 1207.3,785.7 1209,791 1210.7,801.7 1212.4,815.6 1214,829.5 1215.7,840.5 1217.4,845.9 1219.1,844.5 1220.8,835.6 1222.5,821.1 1224.1,804.2 1225.8,788.6 1227.5,777.9 1229.2,774.3 1230.9,779.3 1232.6,792.3 1234.3,810.4 1235.9,829.6 1237.6,845.7 1239.3,855.1 1241,855.7 1242.7,846.6 1244.4,829.9 1246.1,809.7 1247.7,790.9 1249.4,778.1 1251.1,774.4 1252.8,781.1 1254.5,796.2 1256.2,814.8 1257.8,830.5 1259.5,838.3 1261.2,836.5 1262.9,828.6 1264.6,816.8 1266.3,804.8 1268,796.2 1269.6,793.4 1271.3,797.6 1273,807.4 1274.7,819.6 1276.4,830.1 1278.1,835.3 1279.8,833.4 1281.4,824.3 1283.1,811.1 1284.8,798.2 1286.5,789.9 1288.2,788.8 1289.9,793.1 1291.5,801.4 1293.2,812.1 1294.9,822.9 1296.6,831.7 1298.3,836.7 1300,836.9 1301.7,831.8 1303.3,822.4 1305,810.4 1306.7,798.2 1308.4,788.2 1310.1,782.3 1311.8,782 1313.5,790.2 1315.1,805.3 1316.8,823.5 1318.5,840 1320.2,850.3 1321.9,851.8 1323.6,843.6 1325.2,827.8 1326.9,808.7 1328.6,791.3 1330.3,780.5 1332,778.9 1333.7,786.5 1335.4,800.8 1337,817.6 1338.7,831.8 1340.4,839.1 1342.1,838.1 1343.8,830.7 1345.5,819.2 1347.2,806.9 1348.8,797.4 1350.5,793.2 1352.2,795.8 1353.9,804.4 1355.6,816.2 1357.3,827.6 1358.9,835.1 1360.6,836.2 1362.3,829.7 1364,817.5 1365.7,803.8 1367.4,793.2 1369.1,789.5 1370.7,792.8 1372.4,801.5 1374.1,813.3 1375.8,825.4 1377.5,834.5 1379.2,838.5 1380.9,836.5 1382.5,829.5 1384.2,818.9 1385.9,806.7 1387.6,795.5 1389.3,787.5 1391,784.4 1392.6,787.6 1394.3,797.6 1396,811.9 1397.7,827.1 1399.4,839.4 1401.1,846 1402.8,844.9 1404.4,836 1406.1,821.6 1407.8,805.5 1409.5,792.1 1411.2,785 1412.9,786 1414.6,794.7 1416.2,808.2 1417.9,822.3 1419.6,832.4 1421.3,835.3 1423,832 1424.7,824.3 1426.3,814.4 1428,804.8 1429.7,798.3 1431.4,796.5 1433.1,800.4 1434.8,809.1 1436.5,819.7 1438.1,828.8 1439.8,833.3 1441.5,831.5 1443.2,822.8 1444.9,810.1 1446.6,797.2 1448.3,788.4 1449.9,786.5 1451.6,791.9 1453.3,803.3 1455,817.9 1456.7,832.1 1458.4,842.5 1460,846.5 1461.7,843.1 1463.4,832.9 1465.1,818 1466.8,801.6 1468.5,787.2 1470.2,777.9 1471.8,775.6 1473.5,782.2 1475.2,796.7 1476.9,815.5 1478.6,834 1480.3,847.9 1482,853.6 1483.6,849.4 1485.3,836 1487,816.9 1488.7,797.2 1490.4,782.3 1492.1,776.2 1493.7,780 1495.4,791.7 1497.1,808 1498.8,824.5 1500.5,836.4 1502.2,840.5 1503.9,836.7 1505.5,827.3 1507.2,814.9 1508.9,803 1510.6,795.1 1512.3,793.4 1514,798.1 1515.7,807.6 1517.3,819.2 1519,829.3 1520.7,835 1522.4,834.2 1524.1,825.8 1525.8,812.4 1527.4,798.4 1529.1,788.4 1530.8,785.5 1532.5,790.1 1534.2,800.6 1535.9,814.6 1537.6,828.8 1539.2,839.8 1540.9,845.2 1542.6,843.4 1544.3,834.2 1546,819.9 1547.7,803.5 1549.4,789 1551,779.6 1552.7,777.5 1554.4,784 1556.1,797.7 1557.8,815.4 1559.5,832.7 1561.1,845.5 1562.8,850.5 1564.5,846.6 1566.2,834.7 1567.9,817.7 1569.6,800.2 1571.3,786.6 1572.9,780.4 1574.6,783.1 1576.3,793.7 1578,809 1579.7,824.4 1581.4,835.3 1583.1,838.5 1584.7,834.1 1586.4,824.1 1588.1,811.6 1589.8,800.2 1591.5,793.3 1593.2,793.1 1594.8,799.7 1596.5,811 1598.2,823.5 1599.9,833.4 1601.6,837.5 1603.3,834.2 1605,824.1 1606.6,810.1 1608.3,796.2 1610,786.3 1611.7,783.4 1613.4,787.9 1615.1,798.8 1616.8,813.4 1618.4,828.4 1620.1,840.3 1621.8,846.2 1623.5,844.7 1625.2,836 1626.9,822 1628.5,805.7 1630.2,790.8 1631.9,780.6 1633.6,777.3 1635.3,781.9 1637,793.6 1638.7,809.7 1640.3,826.8 1642,841.1 1643.7,849.3 1645.4,849.5 1647.1,840.5 1648.8,824.4 1650.5,805.8 1652.1,789.8 1653.8,781.1 1655.5,781.7 1657.2,790.4 1658.9,804.5 1660.6,819.8 1662.2,831.7 1663.9,836.6 1665.6,834.2 1667.3,826.8 1669,816.4 1670.7,806 1672.4,798.7 1674,796.4 1675.7,799.9 1677.4,807.9 1679.1,817.8 1680.8,826.2 1682.5,830.4 1684.2,829 1685.8,822.3 1687.5,812.4 1689.2,802.3 1690.9,795 1692.6,792.7 1694.3,795.6 1695.9,802.9 1697.6,812.5 1699.3,822.2 1701,829.4 1702.7,832.4 1704.4,830.6 1706.1,824.8 1707.7,816.2 1709.4,806.6 1711.1,798.1 1712.8,792.3 1714.5,790.6 1716.2,794 1717.9,802.4 1719.5,813.7 1721.2,825.4 1722.9,834.6 1724.6,839.3 1726.3,838 1728,830.2 1729.6,818.1 1731.3,805.1 1733,795 1734.7,790.6 1736.4,792.7 1738.1,799.8 1739.8,809.9 1741.4,820.2 1743.1,827.8 1744.8,830.6 1746.5,828.7 1748.2,823.5 1749.9,816.4 1751.6,809.2 1753.2,803.8 1754.9,801.5 1756.6,803.2 1758.3,808.8 1760,816.5 1761.7,823.8 1763.3,828.6 1765,829.1 1766.7,823.8 1768.4,813.8 1770.1,802.6 1771.8,793.9 1773.5,790.5 1775.1,794.2 1776.8,804.2 1778.5,817.9 1780.2,831.7 1781.9,841.8 1783.6,845.5 1785.3,841.9 1786.9,831.9 1788.6,817.7 1790.3,802.2 1792,788.8 1793.7,780.3 1795.4,778.6 1797,785.3 1798.7,799.2 1800.4,816.8 1802.1,833.7 1803.8,845.5 1805.5,849.4 1807.2,844.5 1808.8,832.3 1810.5,816.1 1812.2,799.9 1813.9,788 1815.6,783.4 1817.3,786.7 1819,796.2 1820.6,809.3 1822.3,822.2 1824,831.4 1825.7,834.3 1827.4,831.4 1829.1,824.5 1830.7,815.3 1832.4,806 1834.1,799.2 1835.8,796.4 1837.5,798.8 1839.2,806.1 1840.9,816.2 1842.5,825.8 1844.2,832.2 1845.9,833.3 1847.6,829.2 1849.3,821.2 1851,811.3 1852.7,802.3 1854.3,796.5 1856,795.4 1857.7,796.8 1859.4,799.6 1861.1,803.7 1862.8,808.4 1864.4,813.4 1866.1,818 1867.8,821.7 1869.5,824.1"/>
<text class="t" x="250.3" y="962" text-anchor="middle">0</text>
<text class="t" x="418.8" y="962" text-anchor="middle">100</text>
<text class="t" x="587.3" y="962" text-anchor="middle">200</text>
<text class="t" x="755.8" y="962" text-anchor="middle">300</text>
<text class="t" x="924.3" y="962" text-anchor="middle">400</text>
<text class="t" x="1092.8" y="962" text-anchor="middle">500</text>
<text class="t" x="1261.3" y="962" text-anchor="middle">600</text>
<text class="t" x="1429.8" y="962" text-anchor="middle">700</text>
<text class="t" x="1598.3" y="962" text-anchor="middle">800</text>
<text class="t" x="1766.8" y="962" text-anchor="middle">900</text>
<text class="t" x="1935.3" y="962" text-anchor="middle">1000</text>
<text class="t" x="228.4" y="760.9" text-anchor="end">1000</text>
<text class="t" x="228.4" y="833.8" text-anchor="end">0</text>
<text class="t" x="228.4" y="906.8" text-anchor="end">-1000</text>
<text class="l" transform="translate(65.2,815.8) rotate(-90)" text-anchor="middle">imf4</text>
</g>
<g id="ax5">
<rect x="249" y="956" width="1689" height="149" fill="#fff"/>
<rect class="a" x="249" y="956" width="1689" height="3.8"/>
<rect class="a" x="249" y="1102" width="1689" height="3"/>
<rect class="a" x="249" y="956" width="4" height="149"/>
<rect class="a" x="1935" y="956" width="3" height="149"/>
<rect class="a" x="418" y="956" width="4" height="20"/>
<rect class="a" x="418" y="1085" width="4" height="20"/>
<rect class="a" x="586" y="956" width="4" height="20"/>
<rect class="a" x="586" y="1085" width="4" height="20"/>
<rect class="a" x="755" y="956" width="4" height="20"/>
<rect class="a" x="755" y="1085" width="4" height="20"/>
<rect class="a" x="924" y="956" width="4" height="20"/>
<rect class="a" x="924" y="1085" width="4" height="20"/>
<rect class="a" x="1092" y="956" width="4" height="20"/>
<rect class="a" x="1092" y="1085" width="4" height="20"/>
<rect class="a" x="1260" y="956" width="4" height="20"/>
<rect class="a" x="1260" y="1085" width="4" height="20"/>
<rect class="a" x="1429" y="956" width="4" height="20"/>
<rect class="a" x="1429" y="1085" width="4" height="20"/>
<rect class="a" x="1598" y="956" width="4" height="20"/>
<rect class="a" x="1598" y="1085" width="4" height="20"/>
<rect class="a" x="1766" y="956" width="4" height="20"/>
<rect class="a" x="1766" y="1085" width="4" height="20"/>
<rect class="a" x="249" y="1029" width="21" height="3"/>
<rect class="a" x="1918" y="1029" width="20" height="3"/>
<clipPath id="cp5"><rect x="249" y="956" width="1689" height="149"/></clipPath>
<path fill="#0072BD" clip-path="url(#cp5)" d="M251.5,1028.3 254.9,1027.7 258.2,1027.2 261.6,1026.6 265,1026.5 268.4,1026 271.7,1026 275.1,1026.2 278.5,1026.7 281.8,1027.4 285.2,1028 288.6,1028.6 291.9,1028.8 295.3,1028.7 298.7,1028.1 302.1,1027.4 305.4,1026.1 308.8,1025.4 312.2,1024.5 315.5,1024.4 318.9,1024.8 322.3,1026 325.6,1027.4 329,1027.9 332.4,1028 335.8,1027.9 339.1,1027.2 342.5,1025.8 345.9,1024.8 349.2,1023.6 352.6,1022.2 356,1021.2 359.3,1020.3 362.7,1020.6 366.1,1020.7 369.4,1021.1 372.8,1021.6 376.2,1022.7 379.6,1023.1 382.9,1022.4 386.3,1020.4 389.7,1018.9 393,1018.7 396.4,1018.8 399.8,1019.3 403.1,1019.1 406.5,1019.5 409.9,1019.1 413.3,1018.8 416.6,1019.2 420,1019.5 423.4,1020 426.7,1021 430.1,1021.5 433.5,1021.8 436.9,1020.9 440.2,1020.6 443.6,1021.2 447,1022.6 450.3,1024.3 453.7,1024.7 457.1,1024.6 460.4,1024.2 463.8,1023.8 467.2,1022.5 470.6,1021.5 473.9,1020.7 477.3,1019.7 480.7,1019.9 484,1019.7 487.4,1020.5 490.8,1021.1 494.1,1021.2 497.5,1022.2 500.9,1022.2 504.2,1021.3 507.6,1021.4 511,1021.2 514.4,1021.8 517.7,1021.7 521.1,1022.2 524.5,1022.7 527.8,1022.8 531.2,1023.2 534.6,1023.9 538,1024 541.3,1022.9 544.7,1021.8 548.1,1020.8 551.4,1020 554.8,1020 558.2,1019.3 561.5,1018.8 564.9,1018.2 568.3,1017.1 571.7,1016.3 575,1015.5 578.4,1016.4 581.8,1016.9 585.1,1018.2 588.5,1019.4 591.9,1019.7 595.2,1020.4 598.6,1021 602,1021.7 605.4,1022.6 608.7,1023.1 612.1,1023.9 615.5,1024.4 618.8,1024.9 622.2,1025.3 625.6,1024.9 628.9,1023.3 632.3,1021.7 635.7,1020.6 639,1019.5 642.4,1019.8 645.8,1019.2 649.2,1019.4 652.5,1019.4 655.9,1019.3 659.3,1019.9 662.6,1020.1 666,1019.6 669.4,1019.2 672.8,1019.3 676.1,1019.7 679.5,1019.9 682.9,1019.6 686.2,1019.8 689.6,1019.6 693,1020.4 696.3,1021.6 699.7,1022.4 703.1,1022.3 706.5,1022.5 709.8,1021.8 713.2,1021.3 716.6,1020.2 719.9,1019.5 723.3,1020 726.7,1020.3 730,1021.4 733.4,1022.2 736.8,1022.5 740.2,1023.7 743.5,1023.8 746.9,1023.1 750.3,1022.9 753.6,1022.6 757,1022.7 760.4,1022.4 763.7,1021.6 767.1,1021.4 770.5,1021.3 773.9,1022.1 777.2,1023.2 780.6,1023.9 784,1023.7 787.3,1023.2 790.7,1022.2 794.1,1020.9 797.4,1020.3 800.8,1018.9 804.2,1018.1 807.6,1016.9 810.9,1014.5 814.3,1013 817.7,1012.9 821,1014 824.4,1015.9 827.8,1016.9 831.1,1017.8 834.5,1018.2 837.9,1019.8 841.2,1020.8 844.6,1021.8 848,1022.9 851.4,1023.3 854.7,1024.5 858.1,1025.6 861.5,1026.3 864.8,1026.1 868.2,1025.9 871.6,1025.4 875,1025.1 878.3,1024.5 881.7,1023.6 885.1,1023.1 888.4,1022.2 891.8,1021.4 895.2,1020.8 898.5,1019.8 901.9,1020.4 905.3,1020.4 908.6,1019.5 912,1019.5 915.4,1019.2 918.8,1020 922.1,1020.7 925.5,1021.2 928.9,1021.4 932.2,1021.2 935.6,1020.9 939,1020.6 942.4,1020.4 945.7,1020.5 949.1,1020.6 952.5,1019.1 955.8,1018 959.2,1017.7 962.6,1017.2 965.9,1017.7 969.3,1017.9 972.7,1018.4 976.1,1019.3 979.4,1020.2 982.8,1021.7 986.2,1021.9 989.5,1021.6 992.9,1020.7 996.3,1019.5 999.6,1018.9 1003,1018.5 1006.4,1017.5 1009.8,1017.3 1013.1,1017.3 1016.5,1018.3 1019.9,1019.6 1023.2,1021 1026.6,1022.6 1030,1023.2 1033.3,1023.3 1036.7,1023.7 1040.1,1023.8 1043.5,1024.3 1046.8,1025.3 1050.2,1025.9 1053.6,1026.2 1056.9,1025.8 1060.3,1026 1063.7,1026.2 1067,1027.1 1070.4,1027.5 1073.8,1027.1 1077.2,1026.4 1080.5,1025.7 1083.9,1025.3 1087.3,1025.1 1090.6,1025.4 1094,1025.8 1097.4,1026.1 1100.7,1026 1104.1,1025.8 1107.5,1025 1110.8,1024.2 1114.2,1022.7 1117.6,1021.7 1121,1021.1 1124.3,1020.4 1127.7,1019.6 1131.1,1019.8 1134.4,1020.4 1137.8,1020.7 1141.2,1020.2 1144.6,1021.2 1147.9,1021.6 1151.3,1021.1 1154.7,1021.1 1158,1020.9 1161.4,1021.3 1164.8,1021.5 1168.1,1021.5 1171.5,1021.9 1174.9,1022 1178.2,1022.8 1181.6,1023.8 1185,1024.2 1188.4,1023.1 1191.7,1021.8 1195.1,1020.3 1198.5,1018.8 1201.8,1018.5 1205.2,1017.6 1208.6,1017.4 1212,1016.4 1215.3,1014.5 1218.7,1013.3 1222.1,1013.6 1225.4,1015.1 1228.8,1017.2 1232.2,1018.2 1235.5,1019.4 1238.9,1019.5 1242.3,1020.4 1245.7,1020.1 1249,1019.9 1252.4,1020.5 1255.8,1020.7 1259.1,1021.9 1262.5,1023.4 1265.9,1024.6 1269.2,1025.8 1272.6,1025.7 1276,1024.6 1279.4,1024.2 1282.7,1023.9 1286.1,1024.1 1289.5,1024.4 1292.8,1024.5 1296.2,1024.8 1299.6,1024 1302.9,1023.7 1306.3,1023.9 1309.7,1025.1 1313,1026.2 1316.4,1026.4 1319.8,1026 1323.2,1025 1326.5,1024.1 1329.9,1023.4 1333.3,1023.3 1336.6,1023.2 1340,1023.1 1343.4,1023.4 1346.8,1023.1 1350.1,1021 1353.5,1019.2 1356.9,1017.4 1360.2,1016.1 1363.6,1016.6 1367,1017.4 1370.3,1019 1373.7,1020.3 1377.1,1021.7 1380.5,1022.8 1383.8,1024 1387.2,1025.5 1390.6,1025.7 1393.9,1025.4 1397.3,1025.2 1400.7,1024.5 1404,1023.7 1407.4,1023.1 1410.8,1022.8 1414.2,1023.5 1417.5,1024.4 1420.9,1025.9 1424.3,1026.6 1427.6,1027.1 1431,1027.2 1434.4,1026.7 1437.7,1025.3 1441.1,1024 1444.5,1022.9 1447.9,1021.6 1451.2,1021.1 1454.6,1019.9 1458,1018.6 1461.3,1017.6 1464.7,1017.8 1468.1,1019 1471.4,1020.6 1474.8,1021.3 1478.2,1021.6 1481.5,1021.3 1484.9,1021.6 1488.3,1021.9 1491.7,1022.4 1495,1023.3 1498.4,1023.8 1501.8,1024.7 1505.1,1025.4 1508.5,1026 1511.9,1026.5 1515.2,1026.3 1518.6,1024.9 1522,1024 1525.4,1023.3 1528.7,1022.6 1532.1,1022 1535.5,1020.6 1538.8,1019.2 1542.2,1018.6 1545.6,1018.4 1549,1019 1552.3,1020.2 1555.7,1020.8 1559.1,1021.7 1562.4,1021.5 1565.8,1022.1 1569.2,1021.7 1572.5,1021.9 1575.9,1022.2 1579.3,1023.1 1582.7,1024.5 1586,1025.3 1589.4,1025.5 1592.8,1026 1596.1,1025.7 1599.5,1024.4 1602.9,1023.7 1606.2,1022.8 1609.6,1021.2 1613,1020.3 1616.4,1020.3 1619.7,1020.6 1623.1,1020.8 1626.5,1021 1629.8,1021.6 1633.2,1022 1636.6,1022.1 1639.9,1022.2 1643.3,1021.9 1646.7,1022 1650,1021.8 1653.4,1021.7 1656.8,1022.1 1660.2,1022.4 1663.5,1023.3 1666.9,1024.4 1670.3,1025.5 1673.6,1026.4 1677,1026.3 1680.4,1025.4 1683.8,1025.3 1687.1,1025.2 1690.5,1025.3 1693.9,1025.8 1697.2,1025.5 1700.6,1025.4 1704,1024.4 1707.3,1023.7 1710.7,1023.6 1714.1,1024.4 1717.5,1025.7 1720.8,1026.4 1724.2,1026.9 1727.6,1026.8 1730.9,1026.8 1734.3,1027 1737.7,1027.4 1741,1028.1 1744.4,1029.1 1747.8,1029.6 1751.2,1029.9 1754.5,1030 1757.9,1030.1 1761.3,1029.8 1764.6,1029.3 1768,1028.5 1771.4,1026.1 1774.7,1023.2 1778.1,1020.3 1781.5,1016.7 1784.9,1014.5 1788.2,1012.3 1791.6,1013.9 1795,1015.4 1798.3,1015.8 1801.7,1017.6 1805.1,1017.5 1808.4,1018.6 1811.8,1018.8 1815.2,1019.4 1818.5,1020.2 1821.9,1020.4 1825.3,1021.7 1828.7,1023.2 1832,1024 1835.4,1025.1 1838.8,1024.8 1842.1,1024.5 1845.5,1024.7 1848.9,1025.2 1852.2,1025.9 1855.6,1026.4 1859,1026.2 1862.4,1025.9 1865.7,1025.4 1869.1,1025.3 1869.1,1035 1865.7,1035 1862.4,1035.2 1859,1035.8 1855.6,1036.6 1852.2,1037.1 1848.9,1037.3 1845.5,1037.4 1842.1,1036.9 1838.8,1036.5 1835.4,1037 1832,1036.8 1828.7,1037.7 1825.3,1038.4 1821.9,1039.7 1818.5,1041.9 1815.2,1042.4 1811.8,1042.7 1808.4,1043.1 1805.1,1043.4 1801.7,1045 1798.3,1046.2 1795,1049.1 1791.6,1050.8 1788.2,1050.1 1784.9,1049.2 1781.5,1046.3 1778.1,1043.2 1774.7,1040.2 1771.4,1037.4 1768,1035.4 1764.6,1033 1761.3,1032.4 1757.9,1032 1754.5,1031.8 1751.2,1031.8 1747.8,1031.9 1744.4,1032.3 1741,1032.7 1737.7,1033.8 1734.3,1034.6 1730.9,1034.8 1727.6,1034.5 1724.2,1034.1 1720.8,1034.1 1717.5,1035 1714.1,1036.2 1710.7,1037.1 1707.3,1037.7 1704,1037.7 1700.6,1037.4 1697.2,1036.7 1693.9,1037.1 1690.5,1037.2 1687.1,1037.3 1683.8,1037.2 1680.4,1036.5 1677,1036.1 1673.6,1035.6 1670.3,1035 1666.9,1035.5 1663.5,1036.2 1660.2,1037.5 1656.8,1039.2 1653.4,1039.7 1650,1040.7 1646.7,1041 1643.3,1040.9 1639.9,1040.3 1636.6,1039.6 1633.2,1039.6 1629.8,1040.4 1626.5,1040.5 1623.1,1040.5 1619.7,1040.5 1616.4,1039.9 1613,1039.6 1609.6,1038.3 1606.2,1038.3 1602.9,1037.9 1599.5,1037.6 1596.1,1037.3 1592.8,1036.7 1589.4,1036.2 1586,1036.5 1582.7,1036.8 1579.3,1037.1 1575.9,1038.3 1572.5,1038.8 1569.2,1039.3 1565.8,1039.8 1562.4,1039.8 1559.1,1040.4 1555.7,1040.5 1552.3,1041.1 1549,1041.6 1545.6,1042.1 1542.2,1042.5 1538.8,1041.1 1535.5,1039.8 1532.1,1038.9 1528.7,1038 1525.4,1038.1 1522,1037.9 1518.6,1037.3 1515.2,1036.5 1511.9,1035.3 1508.5,1034.8 1505.1,1035.4 1501.8,1036.5 1498.4,1037.5 1495,1038.7 1491.7,1039 1488.3,1039.3 1484.9,1038.9 1481.5,1038.8 1478.2,1039.3 1474.8,1039.9 1471.4,1040.9 1468.1,1041.5 1464.7,1041.5 1461.3,1042 1458,1041.3 1454.6,1040.6 1451.2,1040.1 1447.9,1039.3 1444.5,1039.1 1441.1,1037.9 1437.7,1036.5 1434.4,1035 1431,1033.9 1427.6,1033.5 1424.3,1033.6 1420.9,1034.1 1417.5,1035 1414.2,1036.3 1410.8,1036.9 1407.4,1037.6 1404,1037.2 1400.7,1036.6 1397.3,1036.1 1393.9,1035.4 1390.6,1035.7 1387.2,1037.3 1383.8,1038.8 1380.5,1040.2 1377.1,1041.4 1373.7,1042.3 1370.3,1043.8 1367,1044.9 1363.6,1044.6 1360.2,1043.3 1356.9,1042 1353.5,1040.9 1350.1,1038.9 1346.8,1038.5 1343.4,1038.6 1340,1039.1 1336.6,1039.4 1333.3,1039.5 1329.9,1039 1326.5,1038.9 1323.2,1037.9 1319.8,1037.1 1316.4,1036.4 1313,1036.4 1309.7,1037 1306.3,1037.6 1302.9,1038 1299.6,1037.8 1296.2,1037.5 1292.8,1037 1289.5,1037.5 1286.1,1037.7 1282.7,1037.8 1279.4,1037.6 1276,1037.2 1272.6,1037 1269.2,1036.4 1265.9,1035.8 1262.5,1036.8 1259.1,1037.7 1255.8,1039.2 1252.4,1040.9 1249,1041.1 1245.7,1041.8 1242.3,1041.7 1238.9,1041.5 1235.5,1042.2 1232.2,1042.9 1228.8,1044 1225.4,1044.8 1222.1,1044.9 1218.7,1046 1215.3,1045.3 1212,1045.1 1208.6,1044.9 1205.2,1044.7 1201.8,1043.4 1198.5,1041.1 1195.1,1039.7 1191.7,1038.7 1188.4,1037.3 1185,1037.1 1181.6,1037.6 1178.2,1038.6 1174.9,1039 1171.5,1040 1168.1,1040.3 1164.8,1040.9 1161.4,1040.6 1158,1040 1154.7,1039.8 1151.3,1039.6 1147.9,1041 1144.6,1042.6 1141.2,1043 1137.8,1043.2 1134.4,1042.7 1131.1,1041.5 1127.7,1041.1 1124.3,1040.3 1121,1040.2 1117.6,1039.7 1114.2,1039.4 1110.8,1038.3 1107.5,1036.7 1104.1,1036 1100.7,1035.6 1097.4,1035.6 1094,1035.7 1090.6,1036.5 1087.3,1036.9 1083.9,1037.1 1080.5,1036.4 1077.2,1035.4 1073.8,1034.5 1070.4,1034 1067,1034.3 1063.7,1034.7 1060.3,1035.3 1056.9,1035.3 1053.6,1035.5 1050.2,1035.3 1046.8,1035.8 1043.5,1036 1040.1,1036.7 1036.7,1037.7 1033.3,1037.5 1030,1037.8 1026.6,1038 1023.2,1038.1 1019.9,1039.3 1016.5,1040.4 1013.1,1041.6 1009.8,1043 1006.4,1042.9 1003,1043.2 999.6,1042.1 996.3,1041.5 992.9,1040.7 989.5,1040.3 986.2,1040.9 982.8,1042.4 979.4,1043.4 976.1,1043.9 972.7,1044.1 969.3,1043.9 965.9,1044 962.6,1043.5 959.2,1043.2 955.8,1042.7 952.5,1041.6 949.1,1041 945.7,1039.4 942.4,1038.3 939,1038.9 935.6,1039.7 932.2,1040.5 928.9,1041.1 925.5,1041.1 922.1,1041.6 918.8,1041.4 915.4,1041.3 912,1041.5 908.6,1041 905.3,1042.1 901.9,1042.8 898.5,1042.4 895.2,1041.9 891.8,1040.8 888.4,1039.9 885.1,1039.3 881.7,1038.8 878.3,1038.4 875,1037.6 871.6,1036.7 868.2,1035.8 864.8,1035 861.5,1034.9 858.1,1035.8 854.7,1037.2 851.4,1037.9 848,1039.3 844.6,1039.9 841.2,1040.9 837.9,1041.3 834.5,1041.7 831.1,1043.2 827.8,1044.2 824.4,1045.4 821,1046.1 817.7,1046 814.3,1046.7 810.9,1045.3 807.6,1044.4 804.2,1043.4 800.8,1042.7 797.4,1041.6 794.1,1040 790.7,1039.2 787.3,1038.5 784,1037.3 780.6,1036.8 777.2,1037 773.9,1037.6 770.5,1038.2 767.1,1039.4 763.7,1039.5 760.4,1039.8 757,1039.2 753.6,1038.6 750.3,1038.3 746.9,1037.9 743.5,1038.9 740.2,1040.3 736.8,1041 733.4,1041.4 730,1041.2 726.7,1040.9 723.3,1041.4 719.9,1041.8 716.6,1042.3 713.2,1042.5 709.8,1041.5 706.5,1040.2 703.1,1038.7 699.7,1038.6 696.3,1039.2 693,1040.1 689.6,1040.7 686.2,1041.6 682.9,1041.7 679.5,1042.3 676.1,1041.9 672.8,1041.2 669.4,1040.7 666,1040 662.6,1040.3 659.3,1040.9 655.9,1041.3 652.5,1041.9 649.2,1041.4 645.8,1040.9 642.4,1040.7 639,1040.3 635.7,1040.6 632.3,1039.7 628.9,1038.2 625.6,1036.5 622.2,1035.3 618.8,1034.9 615.5,1035.7 612.1,1036.9 608.7,1037.9 605.4,1038.9 602,1039.1 598.6,1039.4 595.2,1039.3 591.9,1039.7 588.5,1041 585.1,1041.5 581.8,1043.4 578.4,1045.9 575,1047.1 571.7,1046.8 568.3,1045.2 564.9,1043.8 561.5,1043.1 558.2,1043 554.8,1042.1 551.4,1040.5 548.1,1039.6 544.7,1039 541.3,1037.6 538,1037.2 534.6,1037.3 531.2,1037.9 527.8,1038.7 524.5,1039.6 521.1,1039.7 517.7,1040.4 514.4,1040.4 511,1039.8 507.6,1039.5 504.2,1039 500.9,1040.1 497.5,1041.5 494.1,1042.1 490.8,1042.5 487.4,1042.2 484,1041.7 480.7,1042 477.3,1042.2 473.9,1042.4 470.6,1041.5 467.2,1039.7 463.8,1037.9 460.4,1036.5 457.1,1035.9 453.7,1035.9 450.3,1036.4 447,1037.3 443.6,1038.9 440.2,1039.6 436.9,1040.2 433.5,1040.9 430.1,1040.6 426.7,1040.3 423.4,1040 420,1040.4 416.6,1041.2 413.3,1042.3 409.9,1043 406.5,1042.6 403.1,1041.6 399.8,1041.4 396.4,1041.5 393,1042.2 389.7,1042.3 386.3,1041.5 382.9,1040.3 379.6,1039.7 376.2,1039.7 372.8,1040.1 369.4,1040.3 366.1,1040.9 362.7,1041.2 359.3,1041.2 356,1040.7 352.6,1039.5 349.2,1038.4 345.9,1037.1 342.5,1035.3 339.1,1034.6 335.8,1034.1 332.4,1034 329,1034.1 325.6,1035.1 322.3,1035.9 318.9,1036.4 315.5,1036.7 312.2,1036.8 308.8,1036.6 305.4,1035.8 302.1,1035 298.7,1034 295.3,1033.6 291.9,1033.4 288.6,1033.6 285.2,1034 281.8,1035 278.5,1035.7 275.1,1035.8 271.7,1035.9 268.4,1035.7 265,1035.4 261.6,1034.4 258.2,1033.5 254.9,1032.7 251.5,1032.3Z"/>
<path class="c" clip-path="url(#cp5)" d="M251.5,1027.1 253.2,1031.8 254.9,1025 256.6,1036.6 258.2,1028.4 259.9,1020.2 261.6,1030.8 263.3,1041.4 265,1020.2 266.7,1032 268.4,1043.7 270,1023.4 271.7,1035.6 273.4,1047.8 275.1,1032.6 276.8,1017.4 278.5,1039.8 280.1,1030.5 281.8,1021.3 283.5,1030 285.2,1038.7 286.9,1025 288.6,1030.3 290.3,1035.5 291.9,1031.3 293.6,1027.1 295.3,1035.5 297,1031.1 298.7,1026.6 300.4,1038.7 302.1,1030 303.7,1021.3 305.4,1042.8 307.1,1028.6 308.8,1014.4 310.5,1029.1 312.2,1043.7 313.8,1008.2 315.5,1026.9 317.2,1045.6 318.9,1020.2 320.6,1030.9 322.3,1041.6 324,1022.4 325.6,1031.6 327.3,1040.9 329,1024.2 330.7,1029.5 332.4,1034.8 334.1,1030.5 335.8,1026.3 337.4,1035.5 339.1,1027.4 340.8,1019.2 342.5,1041.6 344.2,1028.8 345.9,1016 347.5,1032.9 349.2,1049.9 350.9,1016.3 352.6,1037.6 354.3,1058.9 356,1032.5 357.7,1006.1 359.3,1054.7 361,1027.5 362.7,1000.3 364.4,1049.7 366.1,1025.9 367.8,1002.2 369.4,1028.4 371.1,1054.7 372.8,1012.1 374.5,1032.8 376.2,1053.6 377.9,1018.1 379.6,1036.4 381.2,1054.7 382.9,1035 384.6,1015.3 386.3,1059.7 388,1032.4 389.7,1005.2 391.4,1062.6 393,1027.4 394.7,992.1 396.4,1047.8 398.1,1025 399.8,1002.2 401.5,1025.9 403.1,1049.7 404.8,998.5 406.5,1030.1 408.2,1061.8 409.9,1003.2 411.6,1032.9 413.3,1062.6 414.9,1035.9 416.6,1009.1 418.3,1059.7 420,1030.9 421.7,1002.2 423.4,1024.4 425.1,1046.7 426.7,1007.5 428.4,1030.5 430.1,1053.6 431.8,1014.2 433.5,1037.3 435.2,1060.5 436.9,1034.4 438.5,1008.2 440.2,1054.7 441.9,1030.9 443.6,1007.2 445.3,1046.7 447,1029.4 448.6,1012.1 450.3,1038.7 452,1028 453.7,1017.3 455.4,1029.1 457.1,1040.9 458.8,1018.1 460.4,1031.9 462.1,1045.6 463.8,1014.9 465.5,1034.8 467.2,1054.7 468.9,1034.4 470.6,1014.2 472.2,1061.8 473.9,1029.9 475.6,997.9 477.3,1053.6 479,1028.3 480.7,1003 482.3,1052.5 484,1024.4 485.7,996.3 487.4,1026.5 489.1,1056.6 490.8,1003 492.5,1030.3 494.1,1057.6 495.8,1016 497.5,1035.9 499.2,1055.7 500.9,1031.3 502.6,1007 504.2,1046.7 505.9,1026.8 507.6,1007 509.3,1028.8 511,1050.6 512.7,1008.2 514.4,1034.5 516,1060.7 517.7,1037 519.4,1013.3 521.1,1056.6 522.8,1034.3 524.5,1012.1 526.2,1051.7 527.8,1032.4 529.5,1013.1 531.2,1044.4 532.9,1029.4 534.6,1014.4 536.3,1042.8 538,1027.9 539.6,1013.1 541.3,1029.4 543,1045.6 544.7,1009.1 546.4,1031.9 548.1,1054.7 549.7,1010.4 551.4,1036.5 553.1,1062.6 554.8,1032.8 556.5,1003 558.2,1055.7 559.9,1029.9 561.5,1004.1 563.2,1057.6 564.9,1023.9 566.6,990.2 568.3,1024.9 570,1059.7 571.7,987.1 573.3,1029.5 575,1071.9 576.7,995.3 578.4,1033 580.1,1070.8 581.8,1038.1 583.4,1005.4 585.1,1059.7 586.8,1031.9 588.5,1004.1 590.2,1045.6 591.9,1025.9 593.6,1006.1 595.2,1031.3 596.9,1056.6 598.6,1010.4 600.3,1033 602,1055.7 603.7,1035 605.4,1014.2 607,1053.6 608.7,1032.9 610.4,1012.3 612.1,1042.8 613.8,1030.1 615.5,1017.4 617.1,1037.7 618.8,1029 620.5,1020.2 622.2,1031 623.9,1041.7 625.6,1018.1 627.3,1033.9 628.9,1049.7 630.6,1032.4 632.3,1015.1 634,1058.9 635.7,1027.5 637.4,996.1 639,1048.6 640.7,1025.9 642.4,1003.2 644.1,1047.8 645.8,1023 647.5,998.1 649.2,1028.9 650.8,1059.7 652.5,1003 654.2,1031.9 655.9,1060.7 657.6,1037 659.3,1013.3 661,1057.8 662.6,1031.5 664.3,1005.2 666,1049.7 667.7,1026.5 669.4,1003.2 671.1,1028 672.8,1052.7 674.4,1004.1 676.1,1035 677.8,1065.8 679.5,1011.2 681.2,1036.9 682.9,1062.6 684.5,1034.4 686.2,1006.1 687.9,1060 689.6,1032.6 691.3,1005.2 693,1049.7 694.7,1028.4 696.3,1007.2 698,1043.7 699.7,1026.9 701.4,1010.2 703.1,1029.5 704.8,1048.8 706.5,1010.2 708.1,1032.9 709.8,1055.7 711.5,1014.2 713.2,1038.9 714.9,1063.7 716.6,1029.9 718.2,996.1 719.9,1052.7 721.6,1028 723.3,1003.2 725,1048.6 726.7,1024.3 728.4,1000.1 730,1027.9 731.7,1055.7 733.4,1006.1 735.1,1029.9 736.8,1053.6 738.5,1018.1 740.2,1035.4 741.8,1052.7 743.5,1032.5 745.2,1012.3 746.9,1045.6 748.6,1028.4 750.3,1011.2 751.9,1028.4 753.6,1045.6 755.3,1012.3 757,1035 758.7,1057.6 760.4,1016 762.1,1036.4 763.7,1056.8 765.4,1032.9 767.1,1009.1 768.8,1054.7 770.5,1031.9 772.2,1009.1 773.9,1042.8 775.5,1027.5 777.2,1012.3 778.9,1027 780.6,1041.7 782.3,1014.2 784,1029.9 785.6,1045.6 787.3,1013.3 789,1032.5 790.7,1051.7 792.4,1015.1 794.1,1037.4 795.8,1059.7 797.4,1030.9 799.1,1002.2 800.8,1056.8 802.5,1029 804.2,1001.1 805.9,1056.8 807.6,1023 809.2,989.1 810.9,1026.9 812.6,1064.8 814.3,986 816,1032.5 817.7,1078.9 819.3,997.2 821,1036.4 822.7,1075.7 824.4,1035.9 826.1,996.1 827.8,1059.7 829.5,1028.9 831.1,998.1 832.8,1025.4 834.5,1052.7 836.2,1004.1 837.9,1033.9 839.6,1063.7 841.2,1013.3 842.9,1035.1 844.6,1056.8 846.3,1034.4 848,1012.1 849.7,1053.6 851.4,1033.9 853,1014.2 854.7,1041.7 856.4,1030.4 858.1,1019.2 859.8,1038.7 861.5,1029.5 863.2,1020.2 864.8,1029.5 866.5,1038.7 868.2,1018.1 869.9,1031.9 871.6,1045.6 873.3,1020.2 875,1034.4 876.6,1048.6 878.3,1029.9 880,1011.2 881.7,1046.7 883.4,1030.4 885.1,1014.2 886.7,1050.7 888.4,1026.5 890.1,1002.2 891.8,1026.5 893.5,1050.7 895.2,999.2 896.9,1029.1 898.5,1058.9 900.2,1008.2 901.9,1034.5 903.6,1060.7 905.3,1033.4 907,1006.1 908.6,1054.7 910.3,1027.5 912,1000.3 913.7,1026.5 915.4,1052.7 917.1,1005.2 918.8,1034.4 920.4,1063.7 922.1,1012.1 923.8,1035.9 925.5,1059.7 927.2,1035.4 928.9,1011.2 930.6,1059.7 932.2,1033.9 933.9,1008.2 935.6,1050.6 937.3,1029.4 939,1008.2 940.7,1043.7 942.4,1026 944,1008.2 945.7,1030.9 947.4,1053.6 949.1,1006.1 950.8,1033.4 952.5,1060.7 954.1,1011.2 955.8,1039.5 957.5,1067.7 959.2,1031 960.9,994.2 962.6,1058.9 964.3,1027.5 965.9,996.1 967.6,1025.4 969.3,1054.7 971,993.2 972.7,1029 974.4,1064.8 976.1,1003.2 977.7,1032 979.4,1060.7 981.1,1036.9 982.8,1013.1 984.5,1054.7 986.2,1030.4 987.8,1006.1 989.5,1047.8 991.2,1026 992.9,1004.3 994.6,1027.5 996.3,1050.7 998,1003.2 999.6,1035 1001.3,1066.7 1003,1007.2 1004.7,1037.5 1006.4,1067.7 1008.1,1034 1009.8,1000.3 1011.4,1065.8 1013.1,1032.5 1014.8,999.2 1016.5,1048.6 1018.2,1026.9 1019.9,1005.2 1021.5,1026.5 1023.2,1047.8 1024.9,1012.1 1026.6,1031.4 1028.3,1050.7 1030,1017.4 1031.7,1034.1 1033.3,1050.7 1035,1032.9 1036.7,1015.1 1038.4,1045.6 1040.1,1027.4 1041.8,1009.1 1043.5,1025.9 1045.1,1042.8 1046.8,1021.3 1048.5,1031.1 1050.2,1040.9 1051.9,1024 1053.6,1033.4 1055.2,1042.8 1056.9,1029 1058.6,1015.1 1060.3,1031.5 1062,1047.8 1063.7,1035.5 1065.4,1023.2 1067,1035.5 1068.7,1031.3 1070.4,1027.1 1072.1,1036.6 1073.8,1025 1075.5,1032.8 1077.2,1040.6 1078.8,1020.2 1080.5,1035.5 1082.2,1050.7 1083.9,1018.3 1085.6,1034.5 1087.3,1050.7 1088.9,1034.4 1090.6,1018.1 1092.3,1044.6 1094,1032.9 1095.7,1021.3 1097.4,1039.3 1099.1,1031.2 1100.7,1023.2 1102.4,1042.8 1104.1,1030.4 1105.8,1018.1 1107.5,1041.7 1109.2,1026.5 1110.8,1011.2 1112.5,1030 1114.2,1048.8 1115.9,1009.1 1117.6,1034.9 1119.3,1060.7 1121,1034.9 1122.6,1009.1 1124.3,1055.7 1126,1032.5 1127.7,1009.3 1129.4,1055.7 1131.1,1027.5 1132.8,999.2 1134.4,1026.9 1136.1,1054.7 1137.8,999.2 1139.5,1030.5 1141.2,1061.8 1142.9,1011.2 1144.6,1035.1 1146.2,1058.9 1147.9,1033 1149.6,1007.2 1151.3,1047.8 1153,1027.5 1154.7,1007.2 1156.3,1028.4 1158,1049.7 1159.7,1008.2 1161.4,1035 1163.1,1061.8 1164.8,1013.3 1166.5,1036.5 1168.1,1059.7 1169.8,1034.9 1171.5,1010.2 1173.2,1053.6 1174.9,1032.4 1176.6,1011.2 1178.2,1045.6 1179.9,1029.9 1181.6,1014.2 1183.3,1043.7 1185,1029 1186.7,1014.2 1188.4,1029 1190,1043.7 1191.7,1010.2 1193.4,1031.5 1195.1,1052.7 1196.8,1008.2 1198.5,1037.5 1200.2,1066.7 1201.8,1032.4 1203.5,998.1 1205.2,1060.7 1206.9,1030 1208.6,999.2 1210.3,1060.7 1212,1023.9 1213.6,987.1 1215.3,1025.4 1217,1063.7 1218.7,987.1 1220.4,1031 1222.1,1074.8 1223.7,1000.3 1225.4,1036.1 1227.1,1071.9 1228.8,1035.5 1230.5,999.2 1232.2,1055.7 1233.9,1029 1235.5,1002.2 1237.2,1026.5 1238.9,1050.7 1240.6,1005.2 1242.3,1035.5 1244,1065.8 1245.7,1038.9 1247.3,1012.1 1249,1059.7 1250.7,1032.9 1252.4,1006.1 1254.1,1056.8 1255.8,1032 1257.4,1007.2 1259.1,1042.8 1260.8,1028.5 1262.5,1014.2 1264.2,1028.5 1265.9,1042.8 1267.6,1020.2 1269.2,1032.4 1270.9,1044.6 1272.6,1032.4 1274.3,1020.2 1276,1045.6 1277.7,1029.9 1279.4,1014.2 1281,1045.6 1282.7,1024.9 1284.4,1004.1 1286.1,1025.9 1287.8,1047.8 1289.5,1022.2 1291.1,1033.4 1292.8,1044.6 1294.5,1030.4 1296.2,1016.2 1297.9,1043.7 1299.6,1026.4 1301.3,1009.1 1302.9,1033.5 1304.6,1057.8 1306.3,1037.6 1308,1017.4 1309.7,1042.8 1311.4,1033 1313,1023.2 1314.7,1041.7 1316.4,1027.1 1318.1,1036 1319.8,1044.6 1321.5,1020.2 1323.2,1038 1324.8,1055.7 1326.5,1035.4 1328.2,1015.1 1329.9,1052.7 1331.6,1033.5 1333.3,1014.2 1335,1054.7 1336.6,1034.4 1338.3,1014.2 1340,1047.8 1341.7,1030 1343.4,1012.3 1345.1,1045.6 1346.8,1027.9 1348.4,1010.2 1350.1,1029 1351.8,1047.8 1353.5,1004.1 1355.2,1031.5 1356.9,1058.9 1358.5,1000.3 1360.2,1038.5 1361.9,1076.8 1363.6,1035 1365.3,993.2 1367,1059.7 1368.7,1030.4 1370.3,1001.1 1372,1052.7 1373.7,1026 1375.4,999.2 1377.1,1028 1378.8,1056.8 1380.5,1010.2 1382.1,1029 1383.8,1047.8 1385.5,1035 1387.2,1022.2 1388.9,1043.7 1390.6,1030.9 1392.2,1018.1 1393.9,1027.9 1395.6,1037.7 1397.3,1018.1 1399,1031.3 1400.7,1044.6 1402.4,1018.3 1404,1037 1405.7,1055.7 1407.4,1033.5 1409.1,1011.2 1410.8,1046.7 1412.5,1030.9 1414.2,1015.1 1415.8,1043.7 1417.5,1030.9 1419.2,1018.1 1420.9,1036.6 1422.6,1029.5 1424.3,1022.4 1425.9,1029 1427.6,1035.5 1429.3,1025 1431,1031.9 1432.7,1038.7 1434.4,1022.4 1436.1,1033.5 1437.7,1044.6 1439.4,1031.9 1441.1,1019.2 1442.8,1054.7 1444.5,1029.4 1446.2,1004.1 1447.9,1045.6 1449.5,1026.9 1451.2,1008.2 1452.9,1048.8 1454.6,1023.5 1456.3,998.1 1458,1027.9 1459.6,1057.6 1461.3,999.2 1463,1030.9 1464.7,1062.6 1466.4,1006.1 1468.1,1033.9 1469.8,1061.8 1471.4,1035.4 1473.1,1009.1 1474.8,1051.7 1476.5,1030.4 1478.2,1009.1 1479.9,1025.8 1481.5,1042.4 1483.2,1009.1 1484.9,1034 1486.6,1058.9 1488.3,1012.3 1490,1034 1491.7,1055.7 1493.3,1035 1495,1014.2 1496.7,1051.7 1498.4,1033.4 1500.1,1015.1 1501.8,1041.7 1503.5,1030.4 1505.1,1019.2 1506.8,1028.4 1508.5,1037.7 1510.2,1022.2 1511.9,1031.9 1513.6,1041.7 1515.2,1022.2 1516.9,1034.4 1518.6,1046.7 1520.3,1030 1522,1013.3 1523.7,1048.8 1525.4,1027 1527,1005.2 1528.7,1024 1530.4,1042.8 1532.1,1012.3 1533.8,1029.5 1535.5,1046.7 1537.2,1002.2 1538.8,1029.9 1540.5,1057.6 1542.2,1000.1 1543.9,1031.9 1545.6,1063.7 1547.3,1007.5 1549,1035.1 1550.6,1062.6 1552.3,1034.4 1554,1006.1 1555.7,1050.7 1557.4,1028.4 1559.1,1006.1 1560.7,1027.9 1562.4,1049.7 1564.1,1012.3 1565.8,1036 1567.5,1059.7 1569.2,1035.4 1570.9,1011.2 1572.5,1051.7 1574.2,1030.9 1575.9,1010.2 1577.6,1046.7 1579.3,1030 1581,1013.3 1582.7,1026 1584.3,1038.7 1586,1016.2 1587.7,1030.4 1589.4,1044.6 1591.1,1021.3 1592.8,1032.9 1594.4,1044.6 1596.1,1032.4 1597.8,1020.2 1599.5,1045.6 1601.2,1029 1602.9,1012.3 1604.6,1047.8 1606.2,1025.9 1607.9,1004.1 1609.6,1025.4 1611.3,1046.7 1613,1010.2 1614.7,1031.9 1616.4,1053.6 1618,1005.2 1619.7,1033.9 1621.4,1062.6 1623.1,1012.3 1624.8,1035.6 1626.5,1058.9 1628.1,1034.5 1629.8,1010.2 1631.5,1050.7 1633.2,1028.4 1634.9,1006.1 1636.6,1025.9 1638.3,1045.6 1639.9,1007.2 1641.6,1030 1643.3,1052.7 1645,1010.2 1646.7,1036 1648.4,1061.8 1650,1037.6 1651.7,1013.3 1653.4,1055.7 1655.1,1032.9 1656.8,1010.2 1658.5,1051.7 1660.2,1031.5 1661.8,1011.2 1663.5,1039.3 1665.2,1028.3 1666.9,1017.4 1668.6,1028.6 1670.3,1039.8 1672,1020.2 1673.6,1032 1675.3,1043.7 1677,1033.5 1678.7,1023.2 1680.4,1044.6 1682.1,1029 1683.8,1013.3 1685.4,1029.5 1687.1,1045.6 1688.8,1011.2 1690.5,1028.4 1692.2,1045.6 1693.9,1035.3 1695.5,1025 1697.2,1043.7 1698.9,1030 1700.6,1016.2 1702.3,1030.4 1704,1044.6 1705.7,1011.2 1707.3,1034 1709,1056.8 1710.7,1036.5 1712.4,1016.2 1714.1,1041.4 1715.8,1031.3 1717.5,1021.3 1719.1,1039.3 1720.8,1031.8 1722.5,1024.3 1724.2,1038.2 1725.9,1032.1 1727.6,1026.1 1729.2,1043.7 1730.9,1030.9 1732.6,1018.1 1734.3,1039.3 1736,1030.7 1737.7,1022.2 1739.4,1036.6 1741,1032.3 1742.7,1028 1744.4,1031.3 1746.1,1028.2 1747.8,1030.4 1749.5,1032.7 1751.2,1029.3 1752.8,1031.9 1754.5,1034.5 1756.2,1029.3 1757.9,1030.4 1759.6,1031.6 1761.3,1030.5 1762.9,1029.3 1764.6,1028.2 1766.3,1035.5 1768,1030.3 1769.7,1025 1771.4,1037.7 1773.1,1027.5 1774.7,1017.4 1776.4,1057.6 1778.1,1024.4 1779.8,991.2 1781.5,1025 1783.2,1058.7 1784.9,978.1 1786.5,1029.9 1788.2,1081.7 1789.9,985.2 1791.6,1033.5 1793.3,1081.7 1795,1039.5 1796.6,997.2 1798.3,1064.8 1800,1030.4 1801.7,996.1 1803.4,1025.4 1805.1,1054.7 1806.8,1000.3 1808.4,1034.5 1810.1,1068.7 1811.8,1038.9 1813.5,1009.1 1815.2,1062.6 1816.9,1034.4 1818.5,1006.1 1820.2,1054.7 1821.9,1029.9 1823.6,1005.2 1825.3,1024.9 1827,1044.6 1828.7,1014.2 1830.3,1031 1832,1047.8 1833.7,1034 1835.4,1020.2 1837.1,1044.6 1838.8,1029.9 1840.5,1015.1 1842.1,1028.4 1843.8,1041.7 1845.5,1014.2 1847.2,1032.5 1848.9,1050.7 1850.6,1018.1 1852.2,1030.4 1853.9,1042.8 1855.6,1025 1857.3,1032.8 1859,1040.6 1860.7,1020.2 1862.4,1033.5 1864,1046.7 1865.7,1032.4 1867.4,1018.1 1869.1,1038.7"/>
<text class="t" x="250.3" y="1179" text-anchor="middle">0</text>
<text class="t" x="418.8" y="1179" text-anchor="middle">100</text>
<text class="t" x="587.3" y="1179" text-anchor="middle">200</text>
<text class="t" x="755.8" y="1179" text-anchor="middle">300</text>
<text class="t" x="924.3" y="1179" text-anchor="middle">400</text>
<text class="t" x="1092.8" y="1179" text-anchor="middle">500</text>
<text class="t" x="1261.3" y="1179" text-anchor="middle">600</text>
<text class="t" x="1429.8" y="1179" text-anchor="middle">700</text>
<text class="t" x="1598.3" y="1179" text-anchor="middle">800</text>
<text class="t" x="1766.8" y="1179" text-anchor="middle">900</text>
<text class="t" x="1935.3" y="1179" text-anchor="middle">1000</text>
<text class="t" x="228.4" y="977.9" text-anchor="end">100</text>
<text class="t" x="228.4" y="1050.8" text-anchor="end">0</text>
<text class="t" x="228.4" y="1123.8" text-anchor="end">-100</text>
<text class="l" transform="translate(93.1,1032.8) rotate(-90)" text-anchor="middle">imf5</text>
</g>
<g id="ax6">
<rect x="249" y="1170" width="1689" height="149" fill="#fff"/>
<rect class="a" x="249" y="1170" width="1689" height="3.8"/>
<rect class="a" x="249" y="1316" width="1689" height="3"/>
<rect class="a" x="249" y="1170" width="4" height="149"/>
<rect class="a" x="1935" y="1170" width="3" height="149"/>
<rect class="a" x="418" y="1170" width="4" height="20"/>
<rect class="a" x="418" y="1299" width="4" height="20"/>
<rect class="a" x="586" y="1170" width="4" height="20"/>
<rect class="a" x="586" y="1299" width="4" height="20"/>
<rect class="a" x="755" y="1170" width="4" height="20"/>
<rect class="a" x="755" y="1299" width="4" height="20"/>
<rect class="a" x="924" y="1170" width="4" height="20"/>
<rect class="a" x="924" y="1299" width="4" height="20"/>
<rect class="a" x="1092" y="1170" width="4" height="20"/>
<rect class="a" x="1092" y="1299" width="4" height="20"/>
<rect class="a" x="1260" y="1170" width="4" height="20"/>
<rect class="a" x="1260" y="1299" width="4" height="20"/>
<rect class="a" x="1429" y="1170" width="4" height="20"/>
<rect class="a" x="1429" y="1299" width="4" height="20"/>
<rect class="a" x="1598" y="1170" width="4" height="20"/>
<rect class="a" x="1598" y="1299" width="4" height="20"/>
<rect class="a" x="1766" y="1170" width="4" height="20"/>
<rect class="a" x="1766" y="1299" width="4" height="20"/>
<rect class="a" x="249" y="1243" width="21" height="3"/>
<rect class="a" x="1918" y="1243" width="20" height="3"/>
<clipPath id="cp6"><rect x="249" y="1170" width="1689" height="149"/></clipPath>
<path fill="#0072BD" clip-path="url(#cp6)" d="M251.5,1240.8 254.9,1240.4 258.2,1239.7 261.6,1238.8 265,1238.5 268.4,1238.2 271.7,1237.1 275.1,1236.9 278.5,1237.2 281.8,1237.3 285.2,1237.8 288.6,1239.3 291.9,1240.6 295.3,1241.3 298.7,1241.3 302.1,1240.9 305.4,1239.8 308.8,1238.6 312.2,1237.8 315.5,1237.1 318.9,1236.2 322.3,1235 325.6,1233.8 329,1233.4 332.4,1233.1 335.8,1233.8 339.1,1235.6 342.5,1236.7 345.9,1237.5 349.2,1238.7 352.6,1239.6 356,1239.8 359.3,1240.5 362.7,1241 366.1,1241.4 369.4,1241.8 372.8,1242.1 376.2,1242.2 379.6,1242.1 382.9,1241.7 386.3,1240.7 389.7,1238.8 393,1237.2 396.4,1236.4 399.8,1235.9 403.1,1235.9 406.5,1236.7 409.9,1236.8 413.3,1237.5 416.6,1238.7 420,1239.4 423.4,1239.6 426.7,1239.9 430.1,1239.9 433.5,1239.4 436.9,1239.2 440.2,1239 443.6,1238.8 447,1239.1 450.3,1239.3 453.7,1239.2 457.1,1239.2 460.4,1238.7 463.8,1238.1 467.2,1237.5 470.6,1236 473.9,1235.2 477.3,1235.9 480.7,1236.2 484,1236.7 487.4,1237.7 490.8,1238.2 494.1,1237.8 497.5,1238.2 500.9,1238.5 504.2,1238.3 507.6,1238.4 511,1238.5 514.4,1237.7 517.7,1237.5 521.1,1237.9 524.5,1238.2 527.8,1238.9 531.2,1239.7 534.6,1240.2 538,1240.5 541.3,1240.4 544.7,1240 548.1,1239.7 551.4,1239.1 554.8,1238.6 558.2,1238.4 561.5,1238.1 564.9,1237.7 568.3,1237.8 571.7,1237.9 575,1237.8 578.4,1238.7 581.8,1239.4 585.1,1240.1 588.5,1240.6 591.9,1241 595.2,1240.8 598.6,1241 602,1241.5 605.4,1242 608.7,1242.4 612.1,1242.8 615.5,1242.8 618.8,1242.4 622.2,1241.5 625.6,1240.7 628.9,1239.6 632.3,1237.6 635.7,1236.6 639,1236.6 642.4,1236.1 645.8,1236 649.2,1236.7 652.5,1237.4 655.9,1237.4 659.3,1238.3 662.6,1239.3 666,1239.7 669.4,1240.1 672.8,1240.6 676.1,1240.1 679.5,1239.9 682.9,1240.1 686.2,1240.5 689.6,1241.1 693,1242 696.3,1242.8 699.7,1243.1 703.1,1243.4 706.5,1243.4 709.8,1243.5 713.2,1243.8 716.6,1243.8 719.9,1243.3 723.3,1242.3 726.7,1241 730,1240 733.4,1239.4 736.8,1239.1 740.2,1238.3 743.5,1238.3 746.9,1238.3 750.3,1238.2 753.6,1238.1 757,1238.4 760.4,1238.7 763.7,1239.5 767.1,1240.5 770.5,1241.7 773.9,1242.9 777.2,1243.5 780.6,1243.1 784,1242.3 787.3,1241.6 790.7,1240.2 794.1,1239 797.4,1238.5 800.8,1237.6 804.2,1236.7 807.6,1236.5 810.9,1236.8 814.3,1236.3 817.7,1236.8 821,1238.2 824.4,1239.3 827.8,1240.4 831.1,1241.5 834.5,1241.6 837.9,1241.1 841.2,1240.8 844.6,1240.9 848,1241 851.4,1241.3 854.7,1241.9 858.1,1242.2 861.5,1242.7 864.8,1243.3 868.2,1243.7 871.6,1243.3 875,1242.3 878.3,1241.5 881.7,1240.7 885.1,1240 888.4,1239 891.8,1238 895.2,1237.3 898.5,1236.1 901.9,1236.3 905.3,1236.1 908.6,1235.6 912,1235.6 915.4,1236.1 918.8,1236.3 922.1,1236.5 925.5,1237.9 928.9,1239.5 932.2,1240.9 935.6,1242.1 939,1242.7 942.4,1242.5 945.7,1242.5 949.1,1242.5 952.5,1242.8 955.8,1242.8 959.2,1241.7 962.6,1240.9 965.9,1239.8 969.3,1237.9 972.7,1235.6 976.1,1234.8 979.4,1234.3 982.8,1234.8 986.2,1236.4 989.5,1237.4 992.9,1237.9 996.3,1238.6 999.6,1239.4 1003,1240 1006.4,1241.1 1009.8,1242.3 1013.1,1243.1 1016.5,1243.7 1019.9,1244.1 1023.2,1244.1 1026.6,1244.1 1030,1244.1 1033.3,1243.8 1036.7,1243.1 1040.1,1241.8 1043.5,1240.3 1046.8,1239.3 1050.2,1237.4 1053.6,1234.9 1056.9,1233.4 1060.3,1233.3 1063.7,1232.7 1067,1233.7 1070.4,1235.5 1073.8,1236.7 1077.2,1237.7 1080.5,1239.4 1083.9,1240.2 1087.3,1240.8 1090.6,1241.4 1094,1242.3 1097.4,1243.2 1100.7,1244.1 1104.1,1244.3 1107.5,1244.2 1110.8,1244.2 1114.2,1243.7 1117.6,1242.3 1121,1240.7 1124.3,1239.6 1127.7,1238.6 1131.1,1237.6 1134.4,1237.2 1137.8,1237.2 1141.2,1236.8 1144.6,1237.3 1147.9,1237.6 1151.3,1237.4 1154.7,1237.3 1158,1237.5 1161.4,1237.4 1164.8,1237.2 1168.1,1237.9 1171.5,1238.9 1174.9,1239.8 1178.2,1240.9 1181.6,1241.9 1185,1242.4 1188.4,1242.8 1191.7,1242.8 1195.1,1242.2 1198.5,1241 1201.8,1240 1205.2,1239.2 1208.6,1238.2 1212,1237.4 1215.3,1237.1 1218.7,1237 1222.1,1236.6 1225.4,1237 1228.8,1237.5 1232.2,1237.7 1235.5,1237.6 1238.9,1237.7 1242.3,1236.9 1245.7,1236.8 1249,1236.9 1252.4,1237.2 1255.8,1238 1259.1,1239 1262.5,1239.5 1265.9,1239.8 1269.2,1240.3 1272.6,1240.4 1276,1240.3 1279.4,1240.3 1282.7,1239.3 1286.1,1238.4 1289.5,1237.3 1292.8,1235.5 1296.2,1233.1 1299.6,1232 1302.9,1231.2 1306.3,1230.5 1309.7,1232.1 1313,1233.5 1316.4,1234 1319.8,1234.7 1323.2,1235.3 1326.5,1235.4 1329.9,1236.3 1333.3,1237 1336.6,1238.2 1340,1239.9 1343.4,1241.5 1346.8,1242.4 1350.1,1242.8 1353.5,1242.7 1356.9,1242.3 1360.2,1241.3 1363.6,1240 1367,1239.3 1370.3,1238.7 1373.7,1237.5 1377.1,1236.5 1380.5,1236.6 1383.8,1236.6 1387.2,1237 1390.6,1238.4 1393.9,1239.5 1397.3,1239.9 1400.7,1240.3 1404,1240.9 1407.4,1241.4 1410.8,1242 1414.2,1242.6 1417.5,1242.9 1420.9,1243 1424.3,1243.1 1427.6,1243 1431,1242.9 1434.4,1242.8 1437.7,1242 1441.1,1241.1 1444.5,1240.6 1447.9,1240.2 1451.2,1239.8 1454.6,1239.8 1458,1240.2 1461.3,1240.1 1464.7,1240.3 1468.1,1240.9 1471.4,1241.3 1474.8,1241.3 1478.2,1241.6 1481.5,1241.6 1484.9,1241.2 1488.3,1241.2 1491.7,1241.5 1495,1241.5 1498.4,1241.3 1501.8,1241.1 1505.1,1240.9 1508.5,1240.5 1511.9,1239.9 1515.2,1239.8 1518.6,1239.4 1522,1238.6 1525.4,1238.6 1528.7,1238.7 1532.1,1238.1 1535.5,1237.6 1538.8,1237.6 1542.2,1237.2 1545.6,1237.2 1549,1237.9 1552.3,1238.6 1555.7,1239.1 1559.1,1239.9 1562.4,1240.7 1565.8,1240.7 1569.2,1241.2 1572.5,1241.8 1575.9,1242.2 1579.3,1242.1 1582.7,1242 1586,1241.8 1589.4,1241.6 1592.8,1241.1 1596.1,1241 1599.5,1240.5 1602.9,1239.3 1606.2,1238.4 1609.6,1237.8 1613,1237.5 1616.4,1236.7 1619.7,1237.1 1623.1,1237.1 1626.5,1237.3 1629.8,1238.3 1633.2,1239.2 1636.6,1239.5 1639.9,1239.8 1643.3,1240.4 1646.7,1240.2 1650,1240.2 1653.4,1240.4 1656.8,1240.8 1660.2,1241.5 1663.5,1242.3 1666.9,1243 1670.3,1243.3 1673.6,1243.5 1677,1243.3 1680.4,1243.3 1683.8,1242.9 1687.1,1241.9 1690.5,1240.2 1693.9,1238.4 1697.2,1236.1 1700.6,1233.2 1704,1231.4 1707.3,1231.1 1710.7,1230.5 1714.1,1231.6 1717.5,1233.8 1720.8,1235.5 1724.2,1237.4 1727.6,1239.8 1730.9,1241.2 1734.3,1241.5 1737.7,1241.9 1741,1242.4 1744.4,1242.8 1747.8,1243.2 1751.2,1243.5 1754.5,1243.8 1757.9,1243.5 1761.3,1242.6 1764.6,1241.7 1768,1241.1 1771.4,1240.2 1774.7,1239.5 1778.1,1239.1 1781.5,1238 1784.9,1236.6 1788.2,1236.7 1791.6,1237.3 1795,1238.1 1798.3,1239.1 1801.7,1240.5 1805.1,1240.5 1808.4,1239.9 1811.8,1239.5 1815.2,1239.5 1818.5,1239.6 1821.9,1240.3 1825.3,1241.1 1828.7,1241.7 1832,1242.1 1835.4,1242.4 1838.8,1242.5 1842.1,1242.3 1845.5,1242.1 1848.9,1242 1852.2,1241.9 1855.6,1241.6 1859,1240.9 1862.4,1240.7 1865.7,1240.4 1869.1,1240 1869.1,1250 1865.7,1249.5 1862.4,1248.6 1859,1247.9 1855.6,1247.5 1852.2,1247.4 1848.9,1247.6 1845.5,1247.8 1842.1,1247.4 1838.8,1247 1835.4,1247 1832,1247.4 1828.7,1247.7 1825.3,1248.2 1821.9,1248.7 1818.5,1249.3 1815.2,1249.6 1811.8,1249.7 1808.4,1249.5 1805.1,1249.1 1801.7,1249.2 1798.3,1250.2 1795,1251.7 1791.6,1252.7 1788.2,1253.2 1784.9,1252.9 1781.5,1252.1 1778.1,1251.3 1774.7,1250.5 1771.4,1249.5 1768,1248.4 1764.6,1247.9 1761.3,1247.2 1757.9,1246.5 1754.5,1246.1 1751.2,1246.3 1747.8,1246.6 1744.4,1246.9 1741,1247.2 1737.7,1247.5 1734.3,1248 1730.9,1248.6 1727.6,1249.6 1724.2,1251.4 1720.8,1252.9 1717.5,1254.9 1714.1,1257.9 1710.7,1259.8 1707.3,1260.5 1704,1258.8 1700.6,1255.9 1697.2,1252.5 1693.9,1250.5 1690.5,1249.3 1687.1,1247.7 1683.8,1246.8 1680.4,1246.4 1677,1246.1 1673.6,1245.9 1670.3,1245.8 1666.9,1246 1663.5,1246.5 1660.2,1247.2 1656.8,1247.8 1653.4,1248.2 1650,1248.8 1646.7,1249 1643.3,1249 1639.9,1249.3 1636.6,1249.8 1633.2,1250.1 1629.8,1250.9 1626.5,1251.7 1623.1,1251.5 1619.7,1251.5 1616.4,1251.3 1613,1250.8 1609.6,1250 1606.2,1250 1602.9,1249.6 1599.5,1249 1596.1,1248.6 1592.8,1248.5 1589.4,1248 1586,1247.6 1582.7,1247.4 1579.3,1247.1 1575.9,1246.9 1572.5,1247.3 1569.2,1248.1 1565.8,1248.5 1562.4,1249.1 1559.1,1249.8 1555.7,1250.8 1552.3,1251.3 1549,1252 1545.6,1252.6 1542.2,1252.1 1538.8,1251.6 1535.5,1251.4 1532.1,1251.2 1528.7,1250.5 1525.4,1250.7 1522,1250.5 1518.6,1250.1 1515.2,1249.6 1511.9,1249.2 1508.5,1249 1505.1,1248.6 1501.8,1248.4 1498.4,1248 1495,1247.7 1491.7,1247.7 1488.3,1248 1484.9,1247.9 1481.5,1248 1478.2,1248.1 1474.8,1248.1 1471.4,1248.1 1468.1,1248.6 1464.7,1249.2 1461.3,1249.3 1458,1249.4 1454.6,1249.5 1451.2,1249.4 1447.9,1249.2 1444.5,1249.1 1441.1,1248.7 1437.7,1247.6 1434.4,1247.1 1431,1246.9 1427.6,1246.7 1424.3,1246.4 1420.9,1246.4 1417.5,1246.5 1414.2,1246.7 1410.8,1247.4 1407.4,1248.1 1404,1248.6 1400.7,1249.2 1397.3,1249.7 1393.9,1250 1390.6,1250.8 1387.2,1252 1383.8,1252.6 1380.5,1252.9 1377.1,1252.9 1373.7,1252.6 1370.3,1251.6 1367,1250.9 1363.6,1249.7 1360.2,1248.3 1356.9,1247.4 1353.5,1246.9 1350.1,1246.8 1346.8,1247.3 1343.4,1248 1340,1248.9 1336.6,1250.2 1333.3,1251.4 1329.9,1252.5 1326.5,1253.4 1323.2,1254 1319.8,1254.7 1316.4,1255.4 1313,1256.3 1309.7,1257.5 1306.3,1258.7 1302.9,1258.4 1299.6,1257.5 1296.2,1256 1292.8,1253.5 1289.5,1251.7 1286.1,1251.1 1282.7,1250.2 1279.4,1249.5 1276,1249.3 1272.6,1249.2 1269.2,1249 1265.9,1249.3 1262.5,1249.7 1259.1,1250.1 1255.8,1251 1252.4,1251.6 1249,1252 1245.7,1252.4 1242.3,1252.1 1238.9,1251.6 1235.5,1251.6 1232.2,1251.8 1228.8,1251.4 1225.4,1251.9 1222.1,1252.5 1218.7,1252.4 1215.3,1252.3 1212,1252.3 1208.6,1251.6 1205.2,1250.6 1201.8,1249.7 1198.5,1248.3 1195.1,1246.9 1191.7,1246.3 1188.4,1246.4 1185,1246.7 1181.6,1247.3 1178.2,1248.3 1174.9,1249.5 1171.5,1250.6 1168.1,1251.4 1164.8,1252.1 1161.4,1251.9 1158,1251.7 1154.7,1251.7 1151.3,1251.4 1147.9,1251.1 1144.6,1252.2 1141.2,1252.5 1137.8,1252.4 1134.4,1252.4 1131.1,1252 1127.7,1250.7 1124.3,1249.5 1121,1248.5 1117.6,1247 1114.2,1246 1110.8,1245.7 1107.5,1245.6 1104.1,1245.4 1100.7,1245.5 1097.4,1245.8 1094,1246.4 1090.6,1247.4 1087.3,1248.7 1083.9,1249.7 1080.5,1250.7 1077.2,1251.8 1073.8,1252.5 1070.4,1253.5 1067,1255.7 1063.7,1257.2 1060.3,1257.6 1056.9,1256.3 1053.6,1254.4 1050.2,1252.3 1046.8,1250.7 1043.5,1249.4 1040.1,1247.7 1036.7,1246.3 1033.3,1245.7 1030,1245.4 1026.6,1245.4 1023.2,1245.3 1019.9,1245.3 1016.5,1245.6 1013.1,1246.3 1009.8,1247.3 1006.4,1248.5 1003,1249.6 999.6,1250.2 996.3,1251 992.9,1251.8 989.5,1252.1 986.2,1252.7 982.8,1253.6 979.4,1253.5 976.1,1253.2 972.7,1252.6 969.3,1251.3 965.9,1249.6 962.6,1248.2 959.2,1246.9 955.8,1246.3 952.5,1246.5 949.1,1247 945.7,1247.3 942.4,1247.1 939,1247 935.6,1247.3 932.2,1248.4 928.9,1249.7 925.5,1251 922.1,1252.5 918.8,1253 915.4,1253.3 912,1253.5 908.6,1253.1 905.3,1252.4 901.9,1252.9 898.5,1252.6 895.2,1251.9 891.8,1251.2 888.4,1250.6 885.1,1249.2 881.7,1248 878.3,1247.4 875,1246.5 871.6,1245.8 868.2,1245.6 864.8,1245.7 861.5,1246.1 858.1,1246.4 854.7,1247 851.4,1247.6 848,1248 844.6,1248.2 841.2,1248.4 837.9,1248.3 834.5,1248 831.1,1248.2 827.8,1248.7 824.4,1249.7 821,1251 817.7,1252.7 814.3,1253.6 810.9,1253.6 807.6,1253.3 804.2,1252.9 800.8,1251.8 797.4,1250.9 794.1,1250.2 790.7,1249.1 787.3,1248.2 784,1247.4 780.6,1246.6 777.2,1246.1 773.9,1246.7 770.5,1247.7 767.1,1248.8 763.7,1250 760.4,1250.8 757,1251.2 753.6,1251.5 750.3,1251.5 746.9,1250.9 743.5,1251 740.2,1251 736.8,1250.7 733.4,1250.1 730,1249 726.7,1247.7 723.3,1247 719.9,1246.5 716.6,1246 713.2,1245.8 709.8,1246 706.5,1246 703.1,1246 699.7,1246.4 696.3,1246.6 693,1247.1 689.6,1248.1 686.2,1249.2 682.9,1249.7 679.5,1249.9 676.1,1249.6 672.8,1249.5 669.4,1249.6 666,1249.9 662.6,1250.2 659.3,1251.2 655.9,1252.2 652.5,1252.6 649.2,1252.8 645.8,1253.4 642.4,1253.4 639,1252.8 635.7,1252.5 632.3,1251.8 628.9,1250.8 625.6,1249.6 622.2,1248.3 618.8,1247.3 615.5,1246.8 612.1,1246.8 608.7,1247 605.4,1247.4 602,1247.8 598.6,1248.4 595.2,1248.7 591.9,1248.7 588.5,1249 585.1,1249.9 581.8,1250.1 578.4,1250.7 575,1251.2 571.7,1251.3 568.3,1251.5 564.9,1251.9 561.5,1251.4 558.2,1251 554.8,1250.8 551.4,1250 548.1,1249.4 544.7,1249.3 541.3,1249 538,1248.9 534.6,1249.3 531.2,1249.8 527.8,1250.4 524.5,1251.5 521.1,1252.1 517.7,1252.3 514.4,1252.1 511,1251.9 507.6,1251.6 504.2,1251.2 500.9,1250.7 497.5,1251 494.1,1251.4 490.8,1251.5 487.4,1252 484,1253.2 480.7,1253.6 477.3,1253.6 473.9,1253.7 470.6,1253.3 467.2,1252.7 463.8,1252.2 460.4,1251.4 457.1,1250.6 453.7,1250.5 450.3,1250.8 447,1250.9 443.6,1251 440.2,1250.9 436.9,1250.7 433.5,1250.5 430.1,1249.9 426.7,1249.9 423.4,1250.5 420,1250.7 416.6,1251.3 413.3,1252.5 409.9,1252.7 406.5,1253 403.1,1253.5 399.8,1253.6 396.4,1252.7 393,1252 389.7,1251.1 386.3,1249 382.9,1247.1 379.6,1246.5 376.2,1246.3 372.8,1246.3 369.4,1247 366.1,1247.8 362.7,1248.3 359.3,1248.8 356,1249.7 352.6,1250.4 349.2,1251.2 345.9,1252.3 342.5,1252.7 339.1,1253.7 335.8,1255.4 332.4,1256 329,1255.6 325.6,1254.9 322.3,1254 318.9,1252.4 315.5,1251.7 312.2,1251.8 308.8,1250.9 305.4,1249.3 302.1,1248.1 298.7,1247.9 295.3,1248.5 291.9,1249.1 288.6,1250.2 285.2,1251.6 281.8,1252.6 278.5,1252.7 275.1,1252.8 271.7,1252.6 268.4,1252.2 265,1251.6 261.6,1251 258.2,1250 254.9,1249.6 251.5,1249.9Z"/>
<path class="c" clip-path="url(#cp6)" d="M251.5,1242.2 253.2,1248.5 254.9,1254.9 256.6,1232.1 258.2,1258 259.9,1236.4 261.6,1251.7 263.3,1241.5 265,1231.4 266.7,1262.8 268.4,1226.3 270,1260.7 271.7,1238.3 273.4,1256.8 275.1,1240 276.8,1223.3 278.5,1267.8 280.1,1225.4 281.8,1254.9 283.5,1244.5 285.2,1234.2 286.9,1260.7 288.6,1228.2 290.3,1254.6 291.9,1242.2 293.6,1245.5 295.3,1248.8 297,1242.2 298.7,1249.5 300.4,1242.4 302.1,1235.3 303.7,1255.7 305.4,1235.3 307.1,1248.8 308.8,1235.3 310.5,1248.5 312.2,1261.8 313.8,1223.1 315.5,1263.7 317.2,1228.4 318.9,1256.4 320.6,1239 322.3,1246.4 324,1253.8 325.6,1226.3 327.3,1272.9 329,1211.2 330.7,1276.1 332.4,1221.2 334.1,1254.3 335.8,1240.8 337.4,1227.3 339.1,1267.8 340.8,1221.2 342.5,1260.7 344.2,1237.2 345.9,1254.9 347.5,1242 349.2,1229.1 350.9,1260.7 352.6,1233.2 354.3,1251.7 356,1244.4 357.7,1237.2 359.3,1254.9 361,1234.2 362.7,1251.7 364.4,1242.2 366.1,1245.5 367.8,1248.8 369.4,1237.2 371.1,1251.7 372.8,1240.6 374.5,1245.8 376.2,1245.3 377.9,1244.9 379.6,1245.8 381.2,1242.4 382.9,1239 384.6,1252.7 386.3,1236.2 388,1249.5 389.7,1243.4 391.4,1237.2 393,1261.8 394.7,1220.1 396.4,1267.1 398.1,1227.3 399.8,1254.3 401.5,1232.3 403.1,1248.1 404.8,1263.9 406.5,1222.2 408.2,1267.8 409.9,1227.3 411.6,1252.2 413.3,1243.8 414.9,1235.3 416.6,1259.6 418.3,1229.1 420,1257.5 421.7,1235.3 423.4,1241.6 425.1,1247.9 426.7,1237.2 428.4,1256.8 430.1,1231.4 431.8,1254.9 433.5,1240.1 435.2,1249.1 436.9,1258 438.5,1227.1 440.2,1260 441.9,1237.2 443.6,1255.7 445.3,1242.4 447,1229.1 448.6,1259.6 450.3,1235.3 452,1250.6 453.7,1241.4 455.4,1232.1 457.1,1259.6 458.8,1232.3 460.4,1252.2 462.1,1243.8 463.8,1235.3 465.5,1261.8 467.2,1223.1 468.9,1263.7 470.6,1233.2 472.2,1257.7 473.9,1238.9 475.6,1220.1 477.3,1269.7 479,1221 480.7,1261.8 482.3,1239 484,1253.8 485.7,1241.9 487.4,1230 489.1,1263.7 490.8,1226.1 492.5,1257.7 494.1,1238.3 495.8,1247 497.5,1255.7 499.2,1229.1 500.9,1260.7 502.6,1231.4 504.2,1250.1 505.9,1242.7 507.6,1235.3 509.3,1260.7 511,1226.1 512.7,1260.7 514.4,1238 516,1257.7 517.7,1240.8 519.4,1223.9 521.1,1264.6 522.8,1230.2 524.5,1250.6 526.2,1241.5 527.8,1232.3 529.5,1258.6 531.2,1233.4 532.9,1247.9 534.6,1242.6 536.3,1237.2 538,1255.7 539.6,1235.1 541.3,1251.7 543,1240.6 544.7,1246.9 546.4,1253.3 548.1,1231.1 549.7,1258.6 551.4,1234.2 553.1,1249.5 554.8,1240.8 556.5,1232.1 558.2,1259.6 559.9,1227.1 561.5,1261.8 563.2,1236.2 564.9,1245 566.6,1253.8 568.3,1228.2 570,1264.7 571.7,1229.1 573.3,1251.7 575,1241.5 576.7,1231.4 578.4,1260.7 580.1,1229.1 581.8,1255.4 583.4,1239 585.1,1247.4 586.8,1243.2 588.5,1239 590.2,1253.3 591.9,1233.2 593.6,1255.7 595.2,1238 596.9,1247.9 598.6,1242.1 600.3,1236.2 602,1253.8 603.7,1237.2 605.4,1246.9 607,1244 608.7,1241.1 610.4,1249.5 612.1,1241.1 613.8,1246.7 615.5,1243.4 617.1,1240.1 618.8,1249.8 620.5,1240.3 622.2,1248.8 623.9,1243.5 625.6,1238.3 627.3,1255.9 628.9,1229.1 630.6,1258.8 632.3,1238.3 634,1258.6 635.7,1239.3 637.4,1220.1 639,1268.7 640.7,1223.9 642.4,1252.7 644.1,1238 645.8,1259.6 647.5,1241.9 649.2,1224.2 650.8,1268.7 652.5,1223.9 654.2,1257.5 655.9,1240.1 657.6,1256.4 659.3,1242.8 661,1229.1 662.6,1260 664.3,1233.2 666,1251.1 667.7,1240.6 669.4,1247.5 671.1,1254.3 672.8,1233.2 674.4,1255.9 676.1,1240.1 677.8,1253.3 679.5,1241.7 681.2,1230.2 682.9,1258.8 684.5,1234.2 686.2,1247.9 687.9,1243.1 689.6,1238.3 691.3,1252.7 693,1238.3 694.7,1247.9 696.3,1246.1 698,1244.3 699.7,1244.8 701.4,1243.3 703.1,1246.9 704.8,1241.1 706.5,1249 708.1,1241.1 709.8,1246.4 711.5,1245.3 713.2,1244.3 714.9,1246.7 716.6,1243.3 718.2,1243.7 719.9,1244.5 721.6,1245.4 723.3,1249.5 725,1239 726.7,1251.9 728.4,1238.3 730,1248.8 731.7,1233.2 733.4,1246.9 735.1,1260.7 736.8,1227.1 738.5,1258.6 740.2,1238.3 741.8,1252.7 743.5,1241.5 745.2,1230.2 746.9,1261.8 748.6,1229.1 750.3,1254.3 751.9,1235.3 753.6,1249.1 755.3,1262.8 757,1227.1 758.7,1259.6 760.4,1240.1 762.1,1247.5 763.7,1254.9 765.4,1231.4 767.1,1255.7 768.8,1238.3 770.5,1247.9 772.2,1246.1 773.9,1244.3 775.5,1244.8 777.2,1244.7 778.9,1244.7 780.6,1245.8 782.3,1243 784,1240.1 785.6,1250.6 787.3,1236.2 789,1253.8 790.7,1238.3 792.4,1249.5 794.1,1241.4 795.8,1233.2 797.4,1260.7 799.1,1224.2 800.8,1260.2 802.5,1235.3 804.2,1252.7 805.9,1240 807.6,1227.3 809.2,1267.8 810.9,1221.2 812.6,1264.4 814.3,1235.3 816,1258.6 817.7,1241.4 819.3,1224.2 821,1262.8 822.7,1231.4 824.4,1251.7 826.1,1247.2 827.8,1242.7 829.5,1245.8 831.1,1241.1 832.8,1249.5 834.5,1236.2 836.2,1254.9 837.9,1238 839.6,1250.1 841.2,1243.1 842.9,1236.2 844.6,1254.9 846.3,1234.2 848,1249 849.7,1240.6 851.4,1246.1 853,1251.7 854.7,1237.2 856.4,1249.5 858.1,1242.2 859.8,1245.8 861.5,1244.9 863.2,1246.3 864.8,1247.7 866.5,1241.1 868.2,1245.8 869.9,1244.1 871.6,1245.4 873.3,1246.7 875,1243.8 876.6,1245.9 878.3,1247.9 880,1236.2 881.7,1253.8 883.4,1235.1 885.1,1254.9 886.7,1239 888.4,1244.8 890.1,1250.6 891.8,1232.1 893.5,1264.7 895.2,1223.1 896.9,1261.2 898.5,1236.2 900.2,1246.8 901.9,1257.5 903.6,1224.2 905.3,1267.8 907,1224.2 908.6,1257.7 910.3,1237.2 912,1249.2 913.7,1261.2 915.4,1221 917.1,1269.7 918.8,1226.1 920.4,1254.9 922.1,1243.1 923.8,1231.4 925.5,1261.8 927.2,1227.1 928.9,1254.9 930.6,1242.2 932.2,1245 933.9,1247.7 935.6,1241.1 937.3,1246.7 939,1242.7 940.7,1243.6 942.4,1239 944,1252.7 945.7,1238 947.4,1249.5 949.1,1243.3 950.8,1245.9 952.5,1248.5 954.1,1241.1 955.8,1246.9 957.5,1245.1 959.2,1243.3 960.9,1246.9 962.6,1237.2 964.3,1247.5 965.9,1257.7 967.6,1231.1 969.3,1257.5 971,1238.5 972.7,1250.1 974.4,1261.8 976.1,1219.2 977.7,1271.8 979.4,1221.2 981.1,1258.6 982.8,1246.4 984.5,1234.2 986.2,1262.8 987.8,1223.1 989.5,1262.3 991.2,1232.1 992.9,1241.1 994.6,1250.1 996.3,1232.1 998,1261.8 999.6,1231.1 1001.3,1254.9 1003,1246.9 1004.7,1239 1006.4,1252.7 1008.1,1236.2 1009.8,1247.9 1011.4,1244.1 1013.1,1244.4 1014.8,1244.8 1016.5,1244.1 1018.2,1242.2 1019.9,1245.8 1021.5,1245.1 1023.2,1244.3 1024.9,1246.9 1026.6,1245.1 1028.3,1243.3 1030,1245.8 1031.7,1244.5 1033.3,1243.3 1035,1246.7 1036.7,1243.3 1038.4,1245.3 1040.1,1240.1 1041.8,1250.1 1043.5,1242.6 1045.1,1235.1 1046.8,1259.6 1048.5,1229.1 1050.2,1259.6 1051.9,1234.2 1053.6,1256.4 1055.2,1238.3 1056.9,1220.1 1058.6,1276.6 1060.3,1207.2 1062,1275.6 1063.7,1229.5 1065.4,1243 1067,1256.4 1068.7,1222.2 1070.4,1269.7 1072.1,1223.1 1073.8,1258.6 1075.5,1248.8 1077.2,1239 1078.8,1257.7 1080.5,1230.2 1082.2,1258.8 1083.9,1238 1085.6,1244.8 1087.3,1251.7 1088.9,1236.2 1090.6,1251.7 1092.3,1240.1 1094,1245.8 1095.7,1245 1097.4,1244.1 1099.1,1244.8 1100.7,1244.9 1102.4,1244.5 1104.1,1243.3 1105.8,1247.7 1107.5,1246.2 1109.2,1244.7 1110.8,1244.8 1112.5,1244 1114.2,1243.3 1115.9,1247.7 1117.6,1243.3 1119.3,1245 1121,1246.7 1122.6,1235.3 1124.3,1256.4 1126,1229.1 1127.7,1260.7 1129.4,1235.3 1131.1,1243.2 1132.8,1251.1 1134.4,1229.1 1136.1,1266.7 1137.8,1222 1139.5,1261.8 1141.2,1236.4 1142.9,1245.6 1144.6,1254.9 1146.2,1229.1 1147.9,1262.8 1149.6,1227.1 1151.3,1257 1153,1237.2 1154.7,1246 1156.3,1254.9 1158,1227.3 1159.7,1265.7 1161.4,1227.3 1163.1,1255.4 1164.8,1243.9 1166.5,1232.3 1168.1,1262.8 1169.8,1226.1 1171.5,1257.7 1173.2,1248 1174.9,1238.3 1176.6,1249.5 1178.2,1237.2 1179.9,1251.7 1181.6,1238.3 1183.3,1249.5 1185,1245.9 1186.7,1242.2 1188.4,1245.8 1190,1242.2 1191.7,1245.8 1193.4,1242.4 1195.1,1239 1196.8,1251.7 1198.5,1240.1 1200.2,1247.9 1201.8,1240 1203.5,1232.1 1205.2,1258.6 1206.9,1228.2 1208.6,1260 1210.3,1238 1212,1255.4 1213.6,1240.7 1215.3,1226.1 1217,1267.8 1218.7,1224.2 1220.4,1257.7 1222.1,1246.9 1223.7,1236.2 1225.4,1259.6 1227.1,1226.1 1228.8,1262.8 1230.5,1230.2 1232.2,1252.7 1233.9,1245.5 1235.5,1238.3 1237.2,1258.6 1238.9,1225.2 1240.6,1263.9 1242.3,1234.2 1244,1245.3 1245.7,1256.4 1247.3,1223.9 1249,1265.7 1250.7,1227.3 1252.4,1254.3 1254.1,1243.2 1255.8,1232.1 1257.4,1260 1259.1,1230.2 1260.8,1253.8 1262.5,1247.5 1264.2,1241.1 1265.9,1250.1 1267.6,1235.3 1269.2,1256.8 1270.9,1233.2 1272.6,1252.7 1274.3,1246.7 1276,1240.6 1277.7,1254.9 1279.4,1233.4 1281,1254.9 1282.7,1239 1284.4,1246.1 1286.1,1253.3 1287.8,1229.1 1289.5,1264.7 1291.1,1227.1 1292.8,1260.7 1294.5,1248.5 1296.2,1236.4 1297.9,1261.8 1299.6,1214.1 1301.3,1282.7 1302.9,1203.1 1304.6,1276.1 1306.3,1235.3 1308,1251.5 1309.7,1267.6 1311.4,1213.2 1313,1274 1314.7,1225.2 1316.4,1240 1318.1,1254.9 1319.8,1223.1 1321.5,1270.8 1323.2,1223.1 1324.8,1257.5 1326.5,1242.4 1328.2,1227.3 1329.9,1266.7 1331.6,1223.1 1333.3,1255.7 1335,1246.8 1336.6,1238 1338.3,1257 1340,1233.2 1341.7,1250.6 1343.4,1246.9 1345.1,1243.3 1346.8,1249.5 1348.4,1241.1 1350.1,1248.8 1351.8,1242.2 1353.5,1244.5 1355.2,1246.9 1356.9,1239 1358.5,1250.6 1360.2,1239 1361.9,1250.6 1363.6,1243 1365.3,1235.3 1367,1256.4 1368.7,1228.2 1370.3,1263.9 1372,1231.1 1373.7,1242.4 1375.4,1253.8 1377.1,1237.2 1378.8,1261.8 1380.5,1221.2 1382.1,1267.8 1383.8,1224.2 1385.5,1257.7 1387.2,1248.4 1388.9,1239 1390.6,1255.7 1392.2,1230.2 1393.9,1258 1395.6,1235.1 1397.3,1247.9 1399,1242.1 1400.7,1236.2 1402.4,1256.8 1404,1235.3 1405.7,1251.7 1407.4,1245 1409.1,1238.3 1410.8,1250.1 1412.5,1241.1 1414.2,1244.4 1415.8,1247.7 1417.5,1241.1 1419.2,1246.9 1420.9,1243.5 1422.6,1240.1 1424.3,1249.8 1425.9,1241.1 1427.6,1245.8 1429.3,1244.3 1431,1242.7 1432.7,1248.8 1434.4,1240.1 1436.1,1250.6 1437.7,1239 1439.4,1243 1441.1,1246.9 1442.8,1240.1 1444.5,1255.7 1446.2,1230 1447.9,1255.7 1449.5,1235.1 1451.2,1242.8 1452.9,1250.6 1454.6,1240.1 1456.3,1253.3 1458,1232.1 1459.6,1258.8 1461.3,1233.4 1463,1241.5 1464.7,1249.5 1466.4,1238.3 1468.1,1253.8 1469.8,1235.3 1471.4,1252.2 1473.1,1239 1474.8,1243.5 1476.5,1247.9 1478.2,1243.3 1479.9,1250.1 1481.5,1235.1 1483.2,1254.9 1484.9,1239 1486.6,1243.9 1488.3,1248.8 1490,1235.1 1491.7,1251.7 1493.3,1241.1 1495,1246.5 1496.7,1251.9 1498.4,1237.2 1500.1,1243 1501.8,1248.8 1503.5,1237.2 1505.1,1255.7 1506.8,1234.2 1508.5,1252.7 1510.2,1247.5 1511.9,1242.2 1513.6,1251.7 1515.2,1233.2 1516.9,1258.6 1518.6,1231.1 1520.3,1252.2 1522,1239 1523.7,1258.6 1525.4,1242.8 1527,1227.1 1528.7,1259.6 1530.4,1232.1 1532.1,1253.8 1533.8,1246 1535.5,1238.3 1537.2,1258 1538.8,1225.2 1540.5,1265.7 1542.2,1229.1 1543.9,1250.6 1545.6,1239.9 1547.3,1229.1 1549,1263.9 1550.6,1226.1 1552.3,1258 1554,1236.2 1555.7,1241.9 1557.4,1247.7 1559.1,1238.3 1560.7,1254.3 1562.4,1232.1 1564.1,1256.8 1565.8,1237.2 1567.5,1243 1569.2,1248.8 1570.9,1238 1572.5,1249.8 1574.2,1241.1 1575.9,1245.5 1577.6,1249.8 1579.3,1239 1581,1248.8 1582.7,1240.6 1584.3,1246.1 1586,1251.7 1587.7,1236.2 1589.4,1252.7 1591.1,1240.1 1592.8,1248.8 1594.4,1243 1596.1,1237.2 1597.8,1255.7 1599.5,1233.2 1601.2,1252.2 1602.9,1242.2 1604.6,1248.3 1606.2,1254.3 1607.9,1228.4 1609.6,1259.6 1611.3,1228.2 1613,1256.4 1614.7,1248.3 1616.4,1240.1 1618,1252.7 1619.7,1227.3 1621.4,1266.7 1623.1,1223.9 1624.8,1256.8 1626.5,1247.9 1628.1,1239 1629.8,1257.7 1631.5,1228.2 1633.2,1258.6 1634.9,1234.2 1636.6,1241.1 1638.3,1247.9 1639.9,1239 1641.6,1253.3 1643.3,1232.1 1645,1256.8 1646.7,1247 1648.4,1237.2 1650,1249.8 1651.7,1235.1 1653.4,1255.7 1655.1,1234.2 1656.8,1249.8 1658.5,1245.5 1660.2,1241.1 1661.8,1249.8 1663.5,1239 1665.2,1246.7 1666.9,1245 1668.6,1243.3 1670.3,1246.9 1672,1242.2 1673.6,1245.8 1675.3,1244.8 1677,1243.8 1678.7,1248.8 1680.4,1240.1 1682.1,1244.4 1683.8,1248.8 1685.4,1240.3 1687.1,1248.8 1688.8,1244.1 1690.5,1244.8 1692.2,1238.3 1693.9,1256.4 1695.5,1228.2 1697.2,1264.7 1698.9,1227.1 1700.6,1252.7 1702.3,1236.4 1704,1220.1 1705.7,1281.9 1707.3,1199 1709,1284.8 1710.7,1222.2 1712.4,1240 1714.1,1257.7 1715.8,1218.1 1717.5,1273.7 1719.1,1220.1 1720.8,1259.6 1722.5,1249.3 1724.2,1239 1725.9,1255.7 1727.6,1234.2 1729.2,1251.7 1730.9,1245 1732.6,1238.3 1734.3,1252.7 1736,1238.3 1737.7,1243.5 1739.4,1248.8 1741,1239 1742.7,1250.6 1744.4,1246.4 1746.1,1242.2 1747.8,1247.7 1749.5,1241.1 1751.2,1248.8 1752.8,1243.3 1754.5,1244.5 1756.2,1245.8 1757.9,1243.3 1759.6,1246.7 1761.3,1245 1762.9,1243.3 1764.6,1250.6 1766.3,1235.1 1768,1257.7 1769.7,1235.1 1771.4,1241.4 1773.1,1247.7 1774.7,1242.7 1776.4,1254.9 1778.1,1231.4 1779.8,1261.8 1781.5,1226.1 1783.2,1243.4 1784.9,1260.7 1786.5,1238 1788.2,1262.8 1789.9,1220.1 1791.6,1266.7 1793.3,1229.1 1795,1251.7 1796.6,1245.3 1798.3,1239 1800,1252.7 1801.7,1237.2 1803.4,1253.8 1805.1,1234.2 1806.8,1255.7 1808.4,1247.9 1810.1,1240.1 1811.8,1252.7 1813.5,1230 1815.2,1259.6 1816.9,1233.2 1818.5,1248.8 1820.2,1241.9 1821.9,1235.1 1823.6,1254.9 1825.3,1237.2 1827,1248.8 1828.7,1243.9 1830.3,1239 1832,1250.6 1833.7,1240.1 1835.4,1246.9 1837.1,1243.5 1838.8,1240.1 1840.5,1250.6 1842.1,1239 1843.8,1246.9 1845.5,1243.5 1847.2,1240.1 1848.9,1253.8 1850.6,1236.2 1852.2,1242.5 1853.9,1248.8 1855.6,1239 1857.3,1247.7 1859,1244.1 1860.7,1247.9 1862.4,1237.2 1864,1258 1865.7,1230 1867.4,1242.2 1869.1,1254.9"/>
<text class="t" x="250.3" y="1393" text-anchor="middle">0</text>
<text class="t" x="418.8" y="1393" text-anchor="middle">100</text>
<text class="t" x="587.3" y="1393" text-anchor="middle">200</text>
<text class="t" x="755.8" y="1393" text-anchor="middle">300</text>
<text class="t" x="924.3" y="1393" text-anchor="middle">400</text>
<text class="t" x="1092.8" y="1393" text-anchor="middle">500</text>
<text class="t" x="1261.3" y="1393" text-anchor="middle">600</text>
<text class="t" x="1429.8" y="1393" text-anchor="middle">700</text>
<text class="t" x="1598.3" y="1393" text-anchor="middle">800</text>
<text class="t" x="1766.8" y="1393" text-anchor="middle">900</text>
<text class="t" x="1935.3" y="1393" text-anchor="middle">1000</text>
<text class="t" x="228.4" y="1191.9" text-anchor="end">100</text>
<text class="t" x="228.4" y="1264.8" text-anchor="end">0</text>
<text class="t" x="228.4" y="1337.8" text-anchor="end">-100</text>
<text class="l" transform="translate(93.1,1246.8) rotate(-90)" text-anchor="middle">Res</text>
</g>
</svg></body></html>
